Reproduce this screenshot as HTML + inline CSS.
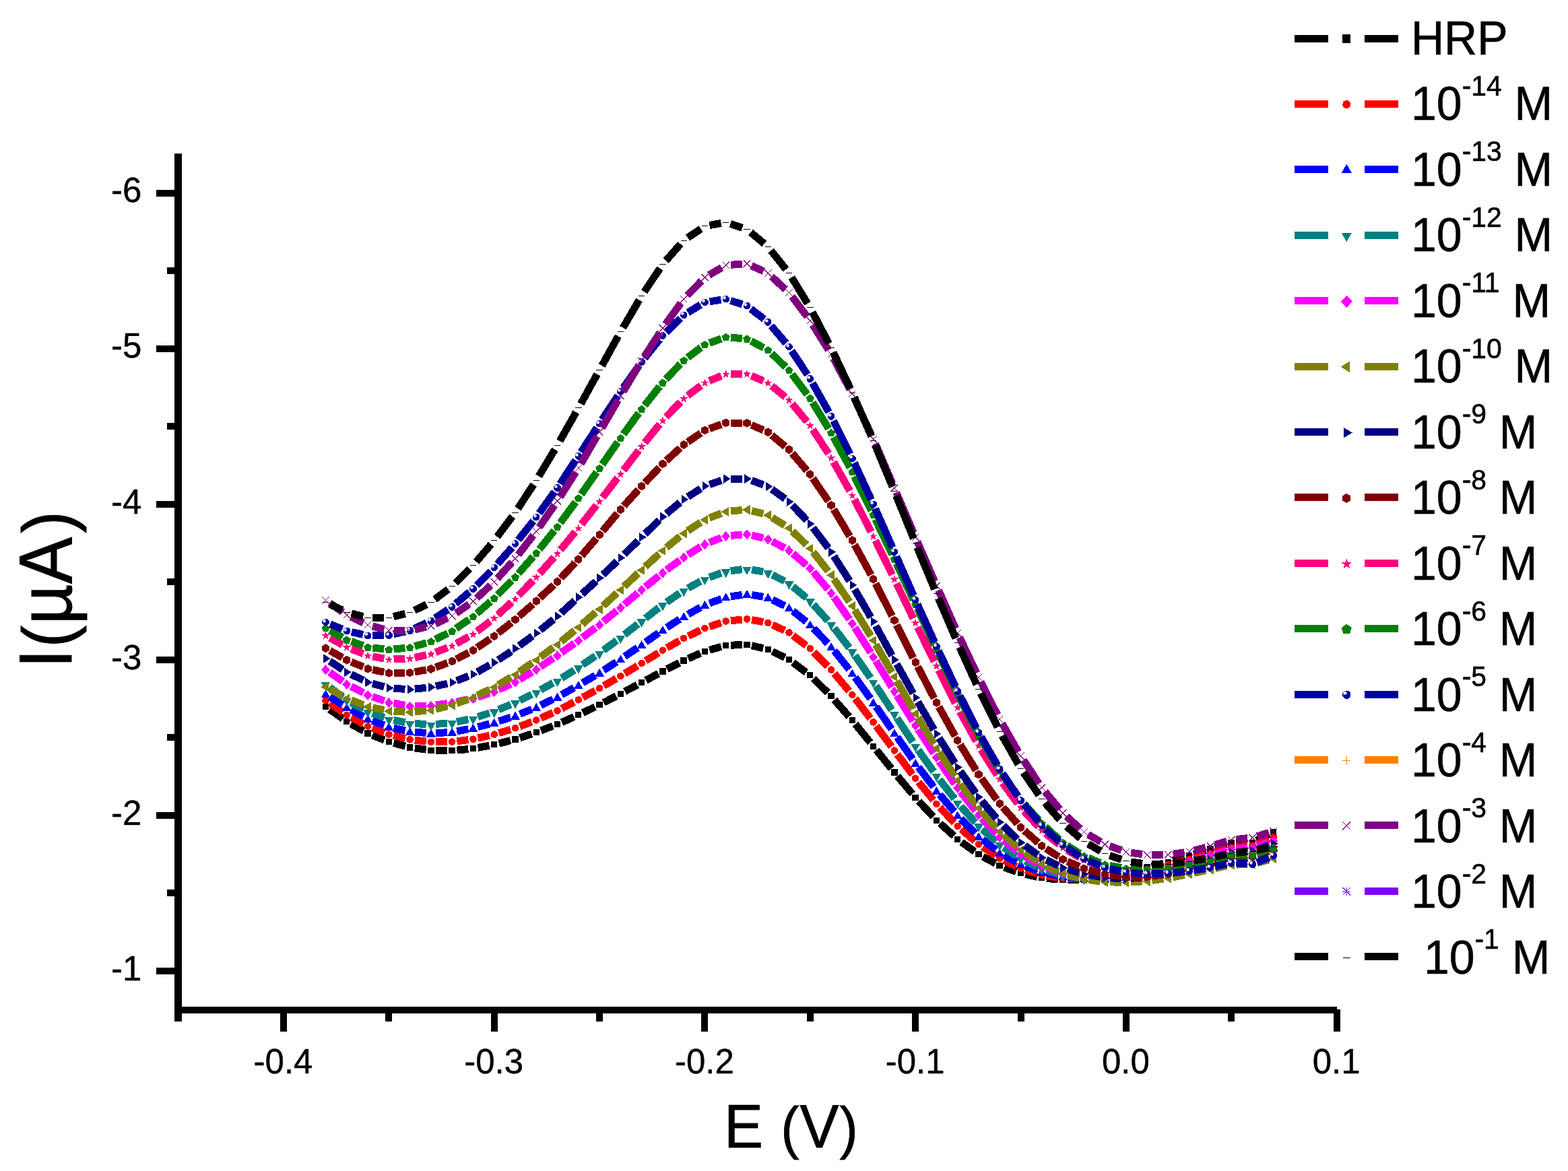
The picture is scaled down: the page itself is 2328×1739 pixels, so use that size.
<!DOCTYPE html>
<html lang="en"><head><meta charset="utf-8"><title>DPV curves: I(µA) vs E (V)</title>
<style>html,body{margin:0;padding:0;background:#fff}body{width:2328px;height:1739px;overflow:hidden}svg{display:block}</style></head><body>
<svg width="2328" height="1739" viewBox="0 0 2328 1739" role="img" aria-label="Differential pulse voltammograms, I(µA) versus E (V)">
<rect width="2328" height="1739" fill="#fff"/>
<g id="curves" shape-rendering="crispEdges">
<g id="c_hrp">
<path d="M489.4,1053.4L509.0,1067.3M521.1,1075.0L539.8,1085.5M552.8,1091.7L570.7,1098.9M584.3,1103.5L601.7,1108.0M615.8,1110.9L632.8,1113.2M647.1,1114.3L664.0,1114.7M678.3,1114.1L695.3,1112.5M709.5,1110.4L726.6,1107.2M740.7,1104.1L758.0,1099.7M771.8,1095.7L789.4,1089.8M803.0,1085.0L820.8,1078.2M834.1,1072.7L852.2,1064.6M865.3,1058.6L883.6,1049.8M896.4,1043.4L915.0,1033.6M927.7,1026.8L946.3,1017.1M959.0,1010.3L977.6,1000.3M990.3,993.7L1008.8,984.3M1021.8,978.1L1039.9,970.1M1053.4,965.3L1070.8,960.4M1084.9,958.2L1101.8,957.6M1116.0,958.8L1133.2,962.7M1146.7,967.4L1165.1,976.4M1177.3,983.9L1197.0,998.5M1207.9,1007.9L1229.0,1028.7M1238.8,1039.2L1260.6,1064.2M1269.9,1075.3L1292.1,1102.6M1301.1,1113.8L1323.4,1141.3M1332.5,1152.5L1354.6,1179.0M1364.1,1189.8L1385.5,1212.8M1395.8,1222.9L1416.4,1241.5M1427.6,1250.6L1447.1,1264.6M1459.3,1272.2L1477.9,1282.2M1491.0,1288.1L1508.7,1294.4M1522.6,1298.4L1539.8,1302.2M1554.0,1304.4L1570.9,1306.0M1585.3,1306.6L1602.1,1306.2M1616.5,1305.2L1633.5,1303.0M1647.7,1300.7L1664.8,1297.1M1678.9,1294.0L1696.1,1290.1M1710.1,1286.6L1727.5,1282.0M1741.3,1278.0L1758.8,1272.6M1772.6,1268.4L1790.1,1262.9M1803.9,1258.8L1821.3,1253.7M1835.4,1251.7L1852.3,1251.7M1865.9,1248.4L1884.4,1238.7" fill="none" stroke="#000000" stroke-width="11.0"/>
<path d="M478.7,1044.6 488.1,1044.6 488.1,1053.8 478.7,1053.8ZM510.0,1066.9 519.4,1066.9 519.4,1076.1 510.0,1076.1ZM541.3,1084.4 550.7,1084.4 550.7,1093.6 541.3,1093.6ZM572.6,1097.0 582.0,1097.0 582.0,1106.2 572.6,1106.2ZM603.8,1105.3 613.2,1105.3 613.2,1114.5 603.8,1114.5ZM635.1,1109.6 644.5,1109.6 644.5,1118.8 635.1,1118.8ZM666.4,1110.2 675.8,1110.2 675.8,1119.4 666.4,1119.4ZM697.6,1107.2 707.0,1107.2 707.0,1116.4 697.6,1116.4ZM728.9,1101.2 738.3,1101.2 738.3,1110.4 728.9,1110.4ZM760.2,1093.4 769.6,1093.4 769.6,1102.6 760.2,1102.6ZM791.5,1082.9 800.9,1082.9 800.9,1092.1 791.5,1092.1ZM822.7,1071.1 832.1,1071.1 832.1,1080.3 822.7,1080.3ZM854.0,1057.1 863.4,1057.1 863.4,1066.3 854.0,1066.3ZM885.3,1042.1 894.7,1042.1 894.7,1051.3 885.3,1051.3ZM916.6,1025.6 926.0,1025.6 926.0,1034.8 916.6,1034.8ZM947.8,1009.1 957.2,1009.1 957.2,1018.3 947.8,1018.3ZM979.1,992.3 988.5,992.3 988.5,1001.5 979.1,1001.5ZM1010.4,976.4 1019.8,976.4 1019.8,985.6 1010.4,985.6ZM1041.6,962.6 1051.0,962.6 1051.0,971.8 1041.6,971.8ZM1072.9,953.9 1082.3,953.9 1082.3,963.1 1072.9,963.1ZM1104.2,952.7 1113.6,952.7 1113.6,961.9 1104.2,961.9ZM1135.5,959.7 1144.9,959.7 1144.9,968.9 1135.5,968.9ZM1166.7,975.0 1176.1,975.0 1176.1,984.2 1166.7,984.2ZM1198.0,998.2 1207.4,998.2 1207.4,1007.4 1198.0,1007.4ZM1229.3,1029.2 1238.7,1029.2 1238.7,1038.4 1229.3,1038.4ZM1260.5,1065.1 1269.9,1065.1 1269.9,1074.3 1260.5,1074.3ZM1291.8,1103.6 1301.2,1103.6 1301.2,1112.8 1291.8,1112.8ZM1323.1,1142.3 1332.5,1142.3 1332.5,1151.5 1323.1,1151.5ZM1354.4,1179.9 1363.8,1179.9 1363.8,1189.1 1354.4,1189.1ZM1385.6,1213.5 1395.0,1213.5 1395.0,1222.7 1385.6,1222.7ZM1416.9,1241.8 1426.3,1241.8 1426.3,1251.0 1416.9,1251.0ZM1448.2,1264.2 1457.6,1264.2 1457.6,1273.4 1448.2,1273.4ZM1479.4,1281.0 1488.8,1281.0 1488.8,1290.2 1479.4,1290.2ZM1510.7,1292.2 1520.1,1292.2 1520.1,1301.4 1510.7,1301.4ZM1542.0,1299.1 1551.4,1299.1 1551.4,1308.3 1542.0,1308.3ZM1573.3,1302.1 1582.7,1302.1 1582.7,1311.3 1573.3,1311.3ZM1604.5,1301.5 1613.9,1301.5 1613.9,1310.7 1604.5,1310.7ZM1635.8,1297.5 1645.2,1297.5 1645.2,1306.7 1635.8,1306.7ZM1667.1,1291.0 1676.5,1291.0 1676.5,1300.2 1667.1,1300.2ZM1698.4,1283.8 1707.8,1283.8 1707.8,1293.0 1698.4,1293.0ZM1729.6,1275.5 1739.0,1275.5 1739.0,1284.7 1729.6,1284.7ZM1760.9,1265.9 1770.3,1265.9 1770.3,1275.1 1760.9,1275.1ZM1792.2,1256.2 1801.6,1256.2 1801.6,1265.4 1792.2,1265.4ZM1823.4,1247.1 1832.8,1247.1 1832.8,1256.3 1823.4,1256.3ZM1854.7,1247.1 1864.1,1247.1 1864.1,1256.3 1854.7,1256.3ZM1886.0,1230.8 1895.4,1230.8 1895.4,1240.0 1886.0,1240.0Z" fill="#000000"/>
</g>
<g id="c_m14">
<path d="M489.5,1044.4L508.9,1057.9M521.2,1065.4L539.7,1075.1M552.8,1081.1L570.6,1088.0M584.3,1092.3L601.6,1096.6M615.8,1099.1L632.8,1101.1M647.1,1101.9L664.0,1101.7M678.3,1100.7L695.3,1098.6M709.5,1096.1L726.7,1092.2M740.6,1088.6L758.1,1083.4M771.7,1078.8L789.5,1072.0M802.8,1066.5L821.0,1058.4M833.9,1052.2L852.4,1042.6M865.1,1035.8L883.8,1025.6M896.3,1018.5L915.1,1007.6M927.5,1000.3L946.5,988.8M958.7,981.2L977.8,969.4M990.1,962.1L1008.9,951.4M1021.7,944.7L1039.9,936.0M1053.3,930.6L1070.9,924.7M1084.9,921.8L1101.8,920.1M1116.1,920.6L1133.2,923.6M1146.8,927.9L1165.0,936.3M1177.3,943.7L1197.1,958.7M1207.9,968.2L1229.0,989.5M1238.7,1000.1L1260.7,1026.2M1269.7,1037.4L1292.2,1066.7M1300.9,1078.2L1323.6,1108.7M1332.2,1120.3L1354.8,1150.1M1363.7,1161.4L1385.9,1188.2M1395.4,1199.0L1416.8,1221.6M1427.2,1231.5L1447.5,1249.1M1459.0,1257.8L1478.3,1270.7M1490.7,1277.9L1509.0,1286.7M1522.4,1292.0L1539.9,1297.4M1553.9,1300.7L1570.9,1303.3M1585.3,1304.5L1602.1,1304.8M1616.5,1304.2L1633.4,1302.7M1647.7,1300.9L1664.8,1298.2M1678.9,1295.7L1696.1,1292.4M1710.2,1289.4L1727.4,1285.5M1741.4,1282.2L1758.7,1277.8M1772.6,1274.1L1790.0,1269.4M1803.9,1265.5L1821.3,1260.5M1835.4,1257.9L1852.3,1256.3M1866.2,1253.1L1884.1,1246.1" fill="none" stroke="#ff0000" stroke-width="11.0"/>
<path d="M483.5,1035.0 485.6,1035.4 487.3,1036.6 488.4,1038.3 488.8,1040.3 488.4,1042.3 487.3,1044.0 485.6,1045.2 483.5,1045.6 481.5,1045.2 479.8,1044.0 478.6,1042.3 478.2,1040.3 478.6,1038.3 479.8,1036.6 481.5,1035.4ZM514.8,1056.7 516.8,1057.1 518.6,1058.3 519.7,1060.0 520.1,1062.0 519.7,1064.0 518.6,1065.7 516.8,1066.9 514.8,1067.3 512.8,1066.9 511.1,1065.7 509.9,1064.0 509.5,1062.0 509.9,1060.0 511.1,1058.3 512.8,1057.1ZM546.1,1073.2 548.1,1073.6 549.8,1074.8 551.0,1076.5 551.4,1078.5 551.0,1080.5 549.8,1082.3 548.1,1083.4 546.1,1083.8 544.1,1083.4 542.3,1082.3 541.2,1080.5 540.8,1078.5 541.2,1076.5 542.3,1074.8 544.1,1073.6ZM577.4,1085.3 579.4,1085.7 581.1,1086.8 582.3,1088.6 582.7,1090.6 582.3,1092.6 581.1,1094.3 579.4,1095.5 577.4,1095.9 575.3,1095.5 573.6,1094.3 572.5,1092.6 572.1,1090.6 572.5,1088.6 573.6,1086.8 575.3,1085.7ZM608.6,1093.0 610.7,1093.4 612.4,1094.6 613.5,1096.3 613.9,1098.3 613.5,1100.3 612.4,1102.1 610.7,1103.2 608.6,1103.6 606.6,1103.2 604.9,1102.1 603.7,1100.3 603.3,1098.3 603.7,1096.3 604.9,1094.6 606.6,1093.4ZM639.9,1096.7 641.9,1097.1 643.7,1098.2 644.8,1099.9 645.2,1102.0 644.8,1104.0 643.7,1105.7 641.9,1106.9 639.9,1107.3 637.9,1106.9 636.2,1105.7 635.0,1104.0 634.6,1102.0 635.0,1099.9 636.2,1098.2 637.9,1097.1ZM671.2,1096.3 673.2,1096.7 674.9,1097.8 676.1,1099.5 676.5,1101.6 676.1,1103.6 674.9,1105.3 673.2,1106.5 671.2,1106.9 669.1,1106.5 667.4,1105.3 666.3,1103.6 665.9,1101.6 666.3,1099.5 667.4,1097.8 669.1,1096.7ZM702.4,1092.4 704.5,1092.8 706.2,1094.0 707.3,1095.7 707.7,1097.7 707.3,1099.7 706.2,1101.5 704.5,1102.6 702.4,1103.0 700.4,1102.6 698.7,1101.5 697.6,1099.7 697.1,1097.7 697.6,1095.7 698.7,1094.0 700.4,1092.8ZM733.7,1085.3 735.7,1085.7 737.5,1086.9 738.6,1088.6 739.0,1090.6 738.6,1092.7 737.5,1094.4 735.7,1095.5 733.7,1095.9 731.7,1095.5 730.0,1094.4 728.8,1092.7 728.4,1090.6 728.8,1088.6 730.0,1086.9 731.7,1085.7ZM765.0,1076.0 767.0,1076.4 768.7,1077.6 769.9,1079.3 770.3,1081.3 769.9,1083.4 768.7,1085.1 767.0,1086.2 765.0,1086.6 763.0,1086.2 761.2,1085.1 760.1,1083.4 759.7,1081.3 760.1,1079.3 761.2,1077.6 763.0,1076.4ZM796.3,1064.1 798.3,1064.5 800.0,1065.7 801.2,1067.4 801.6,1069.4 801.2,1071.4 800.0,1073.1 798.3,1074.3 796.3,1074.7 794.2,1074.3 792.5,1073.1 791.4,1071.4 791.0,1069.4 791.4,1067.4 792.5,1065.7 794.2,1064.5ZM827.5,1050.2 829.6,1050.6 831.3,1051.8 832.4,1053.5 832.8,1055.5 832.4,1057.5 831.3,1059.3 829.6,1060.4 827.5,1060.8 825.5,1060.4 823.8,1059.3 822.6,1057.5 822.2,1055.5 822.6,1053.5 823.8,1051.8 825.5,1050.6ZM858.8,1034.0 860.8,1034.4 862.6,1035.5 863.7,1037.2 864.1,1039.3 863.7,1041.3 862.6,1043.0 860.8,1044.2 858.8,1044.6 856.8,1044.2 855.1,1043.0 853.9,1041.3 853.5,1039.3 853.9,1037.2 855.1,1035.5 856.8,1034.4ZM890.1,1016.8 892.1,1017.2 893.8,1018.4 895.0,1020.1 895.4,1022.1 895.0,1024.1 893.8,1025.9 892.1,1027.0 890.1,1027.4 888.1,1027.0 886.3,1025.9 885.2,1024.1 884.8,1022.1 885.2,1020.1 886.3,1018.4 888.1,1017.2ZM921.4,998.7 923.4,999.1 925.1,1000.3 926.2,1002.0 926.7,1004.0 926.2,1006.1 925.1,1007.8 923.4,1008.9 921.4,1009.3 919.3,1008.9 917.6,1007.8 916.5,1006.1 916.1,1004.0 916.5,1002.0 917.6,1000.3 919.3,999.1ZM952.6,979.7 954.7,980.1 956.4,981.3 957.5,983.0 957.9,985.0 957.5,987.1 956.4,988.8 954.7,989.9 952.6,990.3 950.6,989.9 948.9,988.8 947.7,987.1 947.3,985.0 947.7,983.0 948.9,981.3 950.6,980.1ZM983.9,960.4 985.9,960.8 987.6,961.9 988.8,963.6 989.2,965.7 988.8,967.7 987.6,969.4 985.9,970.5 983.9,971.0 981.9,970.5 980.1,969.4 979.0,967.7 978.6,965.7 979.0,963.6 980.1,961.9 981.9,960.8ZM1015.2,942.5 1017.2,942.9 1018.9,944.1 1020.1,945.8 1020.5,947.8 1020.1,949.8 1018.9,951.6 1017.2,952.7 1015.2,953.1 1013.1,952.7 1011.4,951.6 1010.3,949.8 1009.9,947.8 1010.3,945.8 1011.4,944.1 1013.1,942.9ZM1046.4,927.5 1048.5,927.9 1050.2,929.1 1051.3,930.8 1051.7,932.8 1051.3,934.9 1050.2,936.6 1048.5,937.7 1046.4,938.1 1044.4,937.7 1042.7,936.6 1041.5,934.9 1041.1,932.8 1041.5,930.8 1042.7,929.1 1044.4,927.9ZM1077.7,917.2 1079.7,917.6 1081.5,918.7 1082.6,920.4 1083.0,922.5 1082.6,924.5 1081.5,926.2 1079.7,927.4 1077.7,927.8 1075.7,927.4 1074.0,926.2 1072.8,924.5 1072.4,922.5 1072.8,920.4 1074.0,918.7 1075.7,917.6ZM1109.0,914.1 1111.0,914.5 1112.7,915.6 1113.9,917.4 1114.3,919.4 1113.9,921.4 1112.7,923.1 1111.0,924.3 1109.0,924.7 1107.0,924.3 1105.2,923.1 1104.1,921.4 1103.7,919.4 1104.1,917.4 1105.2,915.6 1107.0,914.5ZM1140.3,919.5 1142.3,919.9 1144.0,921.1 1145.2,922.8 1145.6,924.8 1145.2,926.8 1144.0,928.6 1142.3,929.7 1140.3,930.1 1138.2,929.7 1136.5,928.6 1135.4,926.8 1135.0,924.8 1135.4,922.8 1136.5,921.1 1138.2,919.9ZM1171.5,934.1 1173.6,934.5 1175.3,935.6 1176.4,937.3 1176.8,939.4 1176.4,941.4 1175.3,943.1 1173.6,944.3 1171.5,944.7 1169.5,944.3 1167.8,943.1 1166.6,941.4 1166.2,939.4 1166.6,937.3 1167.8,935.6 1169.5,934.5ZM1202.8,957.8 1204.8,958.2 1206.5,959.3 1207.7,961.0 1208.1,963.1 1207.7,965.1 1206.5,966.8 1204.8,968.0 1202.8,968.4 1200.8,968.0 1199.1,966.8 1197.9,965.1 1197.5,963.1 1197.9,961.0 1199.1,959.3 1200.8,958.2ZM1234.1,989.3 1236.1,989.7 1237.8,990.9 1239.0,992.6 1239.4,994.6 1239.0,996.7 1237.8,998.4 1236.1,999.5 1234.1,999.9 1232.0,999.5 1230.3,998.4 1229.2,996.7 1228.8,994.6 1229.2,992.6 1230.3,990.9 1232.0,989.7ZM1265.3,1026.4 1267.4,1026.8 1269.1,1027.9 1270.2,1029.7 1270.6,1031.7 1270.2,1033.7 1269.1,1035.4 1267.4,1036.6 1265.3,1037.0 1263.3,1036.6 1261.6,1035.4 1260.4,1033.7 1260.0,1031.7 1260.4,1029.7 1261.6,1027.9 1263.3,1026.8ZM1296.6,1067.1 1298.6,1067.5 1300.4,1068.7 1301.5,1070.4 1301.9,1072.4 1301.5,1074.4 1300.4,1076.1 1298.6,1077.3 1296.6,1077.7 1294.6,1077.3 1292.9,1076.1 1291.7,1074.4 1291.3,1072.4 1291.7,1070.4 1292.9,1068.7 1294.6,1067.5ZM1327.9,1109.2 1329.9,1109.6 1331.6,1110.8 1332.8,1112.5 1333.2,1114.5 1332.8,1116.6 1331.6,1118.3 1329.9,1119.4 1327.9,1119.8 1325.9,1119.4 1324.1,1118.3 1323.0,1116.6 1322.6,1114.5 1323.0,1112.5 1324.1,1110.8 1325.9,1109.6ZM1359.2,1150.5 1361.2,1150.9 1362.9,1152.1 1364.1,1153.8 1364.5,1155.8 1364.1,1157.9 1362.9,1159.6 1361.2,1160.7 1359.2,1161.1 1357.1,1160.7 1355.4,1159.6 1354.3,1157.9 1353.9,1155.8 1354.3,1153.8 1355.4,1152.1 1357.1,1150.9ZM1390.4,1188.5 1392.5,1188.9 1394.2,1190.0 1395.3,1191.7 1395.7,1193.8 1395.3,1195.8 1394.2,1197.5 1392.5,1198.7 1390.4,1199.1 1388.4,1198.7 1386.7,1197.5 1385.5,1195.8 1385.1,1193.8 1385.5,1191.7 1386.7,1190.0 1388.4,1188.9ZM1421.7,1221.5 1423.7,1221.9 1425.5,1223.1 1426.6,1224.8 1427.0,1226.8 1426.6,1228.8 1425.5,1230.6 1423.7,1231.7 1421.7,1232.1 1419.7,1231.7 1418.0,1230.6 1416.8,1228.8 1416.4,1226.8 1416.8,1224.8 1418.0,1223.1 1419.7,1221.9ZM1453.0,1248.5 1455.0,1248.9 1456.7,1250.0 1457.9,1251.7 1458.3,1253.8 1457.9,1255.8 1456.7,1257.5 1455.0,1258.7 1453.0,1259.1 1450.9,1258.7 1449.2,1257.5 1448.1,1255.8 1447.7,1253.8 1448.1,1251.7 1449.2,1250.0 1450.9,1248.9ZM1484.2,1269.5 1486.3,1269.9 1488.0,1271.0 1489.1,1272.7 1489.5,1274.8 1489.1,1276.8 1488.0,1278.5 1486.3,1279.7 1484.2,1280.1 1482.2,1279.7 1480.5,1278.5 1479.4,1276.8 1478.9,1274.8 1479.4,1272.7 1480.5,1271.0 1482.2,1269.9ZM1515.5,1284.5 1517.5,1284.9 1519.3,1286.1 1520.4,1287.8 1520.8,1289.8 1520.4,1291.9 1519.3,1293.6 1517.5,1294.7 1515.5,1295.1 1513.5,1294.7 1511.8,1293.6 1510.6,1291.9 1510.2,1289.8 1510.6,1287.8 1511.8,1286.1 1513.5,1284.9ZM1546.8,1294.3 1548.8,1294.7 1550.5,1295.8 1551.7,1297.5 1552.1,1299.6 1551.7,1301.6 1550.5,1303.3 1548.8,1304.5 1546.8,1304.9 1544.8,1304.5 1543.0,1303.3 1541.9,1301.6 1541.5,1299.6 1541.9,1297.5 1543.0,1295.8 1544.8,1294.7ZM1578.1,1299.1 1580.1,1299.5 1581.8,1300.7 1583.0,1302.4 1583.4,1304.4 1583.0,1306.4 1581.8,1308.2 1580.1,1309.3 1578.1,1309.7 1576.0,1309.3 1574.3,1308.2 1573.2,1306.4 1572.8,1304.4 1573.2,1302.4 1574.3,1300.7 1576.0,1299.5ZM1609.3,1299.6 1611.4,1300.0 1613.1,1301.1 1614.2,1302.8 1614.6,1304.9 1614.2,1306.9 1613.1,1308.6 1611.4,1309.8 1609.3,1310.2 1607.3,1309.8 1605.6,1308.6 1604.4,1306.9 1604.0,1304.9 1604.4,1302.8 1605.6,1301.1 1607.3,1300.0ZM1640.6,1296.8 1642.6,1297.2 1644.4,1298.3 1645.5,1300.0 1645.9,1302.1 1645.5,1304.1 1644.4,1305.8 1642.6,1307.0 1640.6,1307.4 1638.6,1307.0 1636.9,1305.8 1635.7,1304.1 1635.3,1302.1 1635.7,1300.0 1636.9,1298.3 1638.6,1297.2ZM1671.9,1291.8 1673.9,1292.2 1675.6,1293.3 1676.8,1295.1 1677.2,1297.1 1676.8,1299.1 1675.6,1300.8 1673.9,1302.0 1671.9,1302.4 1669.9,1302.0 1668.1,1300.8 1667.0,1299.1 1666.6,1297.1 1667.0,1295.1 1668.1,1293.3 1669.9,1292.2ZM1703.2,1285.7 1705.2,1286.1 1706.9,1287.3 1708.0,1289.0 1708.5,1291.0 1708.0,1293.0 1706.9,1294.7 1705.2,1295.9 1703.2,1296.3 1701.1,1295.9 1699.4,1294.7 1698.3,1293.0 1697.9,1291.0 1698.3,1289.0 1699.4,1287.3 1701.1,1286.1ZM1734.4,1278.7 1736.5,1279.1 1738.2,1280.2 1739.3,1281.9 1739.7,1284.0 1739.3,1286.0 1738.2,1287.7 1736.5,1288.9 1734.4,1289.3 1732.4,1288.9 1730.7,1287.7 1729.5,1286.0 1729.1,1284.0 1729.5,1281.9 1730.7,1280.2 1732.4,1279.1ZM1765.7,1270.7 1767.7,1271.1 1769.4,1272.3 1770.6,1274.0 1771.0,1276.0 1770.6,1278.0 1769.4,1279.7 1767.7,1280.9 1765.7,1281.3 1763.7,1280.9 1761.9,1279.7 1760.8,1278.0 1760.4,1276.0 1760.8,1274.0 1761.9,1272.3 1763.7,1271.1ZM1797.0,1262.2 1799.0,1262.6 1800.7,1263.8 1801.9,1265.5 1802.3,1267.5 1801.9,1269.5 1800.7,1271.2 1799.0,1272.4 1797.0,1272.8 1794.9,1272.4 1793.2,1271.2 1792.1,1269.5 1791.7,1267.5 1792.1,1265.5 1793.2,1263.8 1794.9,1262.6ZM1828.2,1253.2 1830.3,1253.6 1832.0,1254.8 1833.1,1256.5 1833.5,1258.5 1833.1,1260.5 1832.0,1262.2 1830.3,1263.4 1828.2,1263.8 1826.2,1263.4 1824.5,1262.2 1823.3,1260.5 1822.9,1258.5 1823.3,1256.5 1824.5,1254.8 1826.2,1253.6ZM1859.5,1250.4 1861.5,1250.8 1863.3,1252.0 1864.4,1253.7 1864.8,1255.7 1864.4,1257.7 1863.3,1259.4 1861.5,1260.6 1859.5,1261.0 1857.5,1260.6 1855.8,1259.4 1854.6,1257.7 1854.2,1255.7 1854.6,1253.7 1855.8,1252.0 1857.5,1250.8ZM1890.8,1238.2 1892.8,1238.6 1894.5,1239.8 1895.7,1241.5 1896.1,1243.5 1895.7,1245.5 1894.5,1247.2 1892.8,1248.4 1890.8,1248.8 1888.8,1248.4 1887.0,1247.2 1885.9,1245.5 1885.5,1243.5 1885.9,1241.5 1887.0,1239.8 1888.8,1238.6Z" fill="#ff0000"/>
</g>
<g id="c_m13">
<path d="M489.6,1034.6L508.7,1046.7M521.1,1054.0L539.8,1064.2M552.8,1070.2L570.6,1076.9M584.4,1081.1L601.6,1085.0M615.8,1087.1L632.7,1088.5M647.1,1088.7L664.0,1087.7M678.2,1086.0L695.4,1082.7M709.4,1079.5L726.7,1075.1M740.6,1071.0L758.1,1065.3M771.7,1060.4L789.6,1053.2M802.7,1047.4L821.1,1038.4M833.8,1031.7L852.5,1021.3M865.0,1014.1L883.9,1003.0M896.1,995.4L915.3,983.0M927.3,975.0L946.7,961.8M958.5,953.6L978.0,939.8M990.0,931.8L1009.1,919.6M1021.5,912.3L1040.1,901.9M1053.2,895.9L1071.0,889.4M1084.8,885.8L1101.9,883.4M1116.1,883.5L1133.2,886.3M1146.7,890.7L1165.1,899.6M1177.1,907.3L1197.2,923.4M1207.8,933.1L1229.1,955.6M1238.6,966.4L1260.8,994.2M1269.5,1005.7L1292.4,1037.5M1300.7,1049.3L1323.8,1082.9M1332.0,1094.7L1355.0,1127.4M1363.5,1139.1L1386.1,1168.7M1395.1,1179.9L1417.0,1205.5M1426.8,1216.1L1447.9,1237.3M1458.7,1246.8L1478.6,1262.3M1490.6,1270.1L1509.2,1280.3M1522.3,1286.2L1540.0,1292.6M1553.8,1296.6L1571.0,1300.5M1585.2,1302.7L1602.2,1304.3M1616.5,1305.0L1633.4,1305.1M1647.8,1304.6L1664.7,1303.5M1679.0,1302.1L1696.0,1299.8M1710.2,1297.6L1727.3,1294.3M1741.5,1291.4L1758.7,1287.6M1772.7,1284.4L1789.9,1280.6M1803.9,1277.2L1821.3,1272.8M1835.4,1270.5L1852.3,1269.5M1866.4,1266.8L1883.9,1261.2" fill="none" stroke="#0000ff" stroke-width="11.0"/>
<path d="M483.5,1024.1 490.4,1036.1 476.6,1036.1ZM514.8,1044.0 521.7,1056.0 507.9,1056.0ZM546.1,1061.1 553.0,1073.1 539.2,1073.1ZM577.4,1072.9 584.3,1084.9 570.5,1084.9ZM608.6,1080.0 615.5,1092.0 601.7,1092.0ZM639.9,1082.5 646.8,1094.5 633.0,1094.5ZM671.2,1080.7 678.1,1092.7 664.3,1092.7ZM702.4,1074.7 709.3,1086.7 695.5,1086.7ZM733.7,1066.7 740.6,1078.7 726.8,1078.7ZM765.0,1056.5 771.9,1068.5 758.1,1068.5ZM796.3,1044.0 803.2,1056.0 789.4,1056.0ZM827.5,1028.7 834.4,1040.7 820.6,1040.7ZM858.8,1011.2 865.7,1023.2 851.9,1023.2ZM890.1,992.7 897.0,1004.7 883.2,1004.7ZM921.4,972.4 928.3,984.4 914.5,984.4ZM952.6,951.1 959.5,963.1 945.7,963.1ZM983.9,929.1 990.8,941.1 977.0,941.1ZM1015.2,909.2 1022.1,921.2 1008.3,921.2ZM1046.4,891.8 1053.3,903.8 1039.5,903.8ZM1077.7,880.3 1084.6,892.3 1070.8,892.3ZM1109.0,875.8 1115.9,887.8 1102.1,887.8ZM1140.3,880.9 1147.2,892.9 1133.4,892.9ZM1171.5,896.2 1178.4,908.2 1164.6,908.2ZM1202.8,921.3 1209.7,933.3 1195.9,933.3ZM1234.1,954.2 1241.0,966.2 1227.2,966.2ZM1265.3,993.3 1272.2,1005.3 1258.4,1005.3ZM1296.6,1036.8 1303.5,1048.8 1289.7,1048.8ZM1327.9,1082.2 1334.8,1094.2 1321.0,1094.2ZM1359.2,1126.7 1366.1,1138.7 1352.3,1138.7ZM1390.4,1167.8 1397.3,1179.8 1383.5,1179.8ZM1421.7,1204.4 1428.6,1216.4 1414.8,1216.4ZM1453.0,1235.8 1459.9,1247.8 1446.1,1247.8ZM1484.2,1260.1 1491.1,1272.1 1477.3,1272.1ZM1515.5,1277.2 1522.4,1289.2 1508.6,1289.2ZM1546.8,1288.5 1553.7,1300.5 1539.9,1300.5ZM1578.1,1295.4 1585.0,1307.4 1571.2,1307.4ZM1609.3,1298.4 1616.2,1310.4 1602.4,1310.4ZM1640.6,1298.5 1647.5,1310.5 1633.7,1310.5ZM1671.9,1296.4 1678.8,1308.4 1665.0,1308.4ZM1703.2,1292.3 1710.1,1304.3 1696.3,1304.3ZM1734.4,1286.4 1741.3,1298.4 1727.5,1298.4ZM1765.7,1279.4 1772.6,1291.4 1758.8,1291.4ZM1797.0,1272.4 1803.9,1284.4 1790.1,1284.4ZM1828.2,1264.4 1835.1,1276.4 1821.3,1276.4ZM1859.5,1262.4 1866.4,1274.4 1852.6,1274.4ZM1890.8,1252.4 1897.7,1264.4 1883.9,1264.4Z" fill="#0000ff"/>
</g>
<g id="c_m12">
<path d="M489.3,1020.5L509.1,1035.6M521.1,1043.4L539.8,1053.5M552.9,1059.3L570.6,1065.6M584.4,1069.4L601.6,1072.8M615.8,1074.6L632.7,1075.5M647.1,1075.4L664.0,1074.0M678.2,1071.9L695.4,1068.3M709.3,1064.6L726.9,1058.9M740.3,1053.8L758.4,1046.2M771.5,1040.2L789.8,1031.2M802.6,1024.5L821.2,1014.2M833.7,1007.0L852.7,995.2M864.8,987.3L884.1,974.1M895.9,965.7L915.6,951.2M927.0,942.4L946.9,926.9M958.3,918.1L978.2,902.6M989.8,894.2L1009.2,880.9M1021.5,873.4L1040.1,863.2M1053.2,857.3L1070.9,851.0M1084.9,847.7L1101.8,845.6M1116.1,846.0L1133.2,849.1M1146.7,853.7L1165.1,863.1M1177.0,871.0L1197.3,888.0M1207.6,897.9L1229.2,921.9M1238.5,932.9L1260.9,961.9M1269.4,973.5L1292.5,1006.7M1300.6,1018.7L1323.9,1054.3M1331.8,1066.4L1355.2,1101.9M1363.3,1113.8L1386.3,1146.0M1394.9,1157.6L1417.3,1186.3M1426.5,1197.4L1448.1,1221.3M1458.4,1231.4L1478.9,1249.7M1490.2,1258.4L1509.5,1271.4M1522.0,1278.5L1540.3,1287.3M1553.7,1292.6L1571.2,1298.0M1585.2,1301.2L1602.2,1303.8M1616.5,1305.2L1633.4,1305.8M1647.8,1305.6L1664.7,1304.5M1679.0,1303.1L1696.0,1300.9M1710.2,1298.6L1727.3,1295.3M1741.5,1292.4L1758.7,1288.6M1772.7,1285.4L1789.9,1281.6M1803.9,1278.2L1821.3,1273.8M1835.4,1271.5L1852.3,1270.5M1866.4,1267.8L1883.9,1262.2" fill="none" stroke="#008080" stroke-width="11.0"/>
<path d="M483.5,1025.5 490.4,1012.9 476.6,1012.9ZM514.8,1049.4 521.7,1036.8 507.9,1036.8ZM546.1,1066.3 553.0,1053.7 539.2,1053.7ZM577.4,1077.4 584.3,1064.8 570.5,1064.8ZM608.6,1083.6 615.5,1071.0 601.7,1071.0ZM639.9,1085.3 646.8,1072.7 633.0,1072.7ZM671.2,1082.8 678.1,1070.2 664.3,1070.2ZM702.4,1076.2 709.3,1063.6 695.5,1063.6ZM733.7,1066.0 740.6,1053.4 726.8,1053.4ZM765.0,1052.8 771.9,1040.2 758.1,1040.2ZM796.3,1037.4 803.2,1024.8 789.4,1024.8ZM827.5,1020.2 834.4,1007.6 820.6,1007.6ZM858.8,1000.8 865.7,988.2 851.9,988.2ZM890.1,979.4 897.0,966.8 883.2,966.8ZM921.4,956.3 928.3,943.7 914.5,943.7ZM952.6,931.9 959.5,919.3 945.7,919.3ZM983.9,907.6 990.8,895.0 977.0,895.0ZM1015.2,886.2 1022.1,873.6 1008.3,873.6ZM1046.4,869.1 1053.3,856.5 1039.5,856.5ZM1077.7,858.0 1084.6,845.4 1070.8,845.4ZM1109.0,854.1 1115.9,841.5 1102.1,841.5ZM1140.3,859.8 1147.2,847.2 1133.4,847.2ZM1171.5,875.7 1178.4,863.1 1164.6,863.1ZM1202.8,902.0 1209.7,889.4 1195.9,889.4ZM1234.1,936.6 1241.0,924.0 1227.2,924.0ZM1265.3,977.0 1272.2,964.4 1258.4,964.4ZM1296.6,1022.1 1303.5,1009.5 1289.7,1009.5ZM1327.9,1069.7 1334.8,1057.1 1321.0,1057.1ZM1359.2,1117.3 1366.1,1104.7 1352.3,1104.7ZM1390.4,1161.3 1397.3,1148.7 1383.5,1148.7ZM1421.7,1201.4 1428.6,1188.8 1414.8,1188.8ZM1453.0,1236.0 1459.9,1223.4 1446.1,1223.4ZM1484.2,1263.8 1491.1,1251.2 1477.3,1251.2ZM1515.5,1284.8 1522.4,1272.2 1508.6,1272.2ZM1546.8,1299.9 1553.7,1287.3 1539.9,1287.3ZM1578.1,1309.5 1585.0,1296.9 1571.2,1296.9ZM1609.3,1314.3 1616.2,1301.7 1602.4,1301.7ZM1640.6,1315.4 1647.5,1302.8 1633.7,1302.8ZM1671.9,1313.5 1678.8,1300.9 1665.0,1300.9ZM1703.2,1309.3 1710.1,1296.7 1696.3,1296.7ZM1734.4,1303.4 1741.3,1290.8 1727.5,1290.8ZM1765.7,1296.4 1772.6,1283.8 1758.8,1283.8ZM1797.0,1289.4 1803.9,1276.8 1790.1,1276.8ZM1828.2,1281.4 1835.1,1268.8 1821.3,1268.8ZM1859.5,1279.4 1866.4,1266.8 1852.6,1266.8ZM1890.8,1269.4 1897.7,1256.8 1883.9,1256.8Z" fill="#008080"/>
</g>
<g id="c_m11">
<path d="M489.5,998.4L508.9,1012.0M521.2,1019.4L539.7,1028.8M552.9,1034.5L570.6,1040.8M584.5,1044.4L601.5,1047.3M615.8,1048.4L632.7,1048.1M647.0,1047.0L664.0,1044.6M678.2,1042.2L695.4,1038.7M709.3,1035.1L726.9,1029.5M740.3,1024.3L758.5,1015.8M771.2,1009.1L790.1,997.9M802.3,990.3L821.5,977.4M833.4,969.2L852.9,955.4M864.6,946.9L884.3,932.1M895.7,923.2L915.8,906.9M926.9,897.7L947.1,880.6M958.2,871.4L978.3,855.2M989.7,846.4L1009.4,831.8M1021.3,823.8L1040.3,812.0M1053.1,805.6L1071.0,798.6M1084.9,795.4L1101.8,793.9M1116.0,794.9L1133.3,799.0M1146.6,804.1L1165.2,813.9M1177.0,822.0L1197.3,839.2M1207.5,849.3L1229.4,875.2M1238.2,886.7L1261.2,919.9M1269.2,931.9L1292.8,969.3M1300.4,981.5L1324.1,1020.4M1331.7,1032.7L1355.4,1071.0M1363.1,1083.1L1386.5,1118.7M1394.5,1130.7L1417.6,1164.1M1426.1,1175.7L1448.5,1204.2M1457.9,1215.1L1479.3,1238.0M1489.9,1247.7L1509.9,1263.8M1521.8,1271.9L1540.5,1282.6M1553.6,1288.5L1571.3,1294.7M1585.1,1298.4L1602.3,1301.7M1616.5,1303.5L1633.4,1304.5M1647.8,1304.5L1664.7,1303.5M1679.0,1301.9L1696.0,1299.2M1710.1,1296.1L1727.5,1291.4M1741.2,1287.2L1758.9,1281.3M1772.6,1277.1L1790.0,1272.4M1803.9,1268.4L1821.4,1263.1M1835.4,1260.5L1852.3,1259.2M1866.3,1256.4L1884.0,1250.6" fill="none" stroke="#ff00ff" stroke-width="11.0"/>
<path d="M483.5,987.2 490.0,994.7 483.5,1002.2 477.0,994.7ZM514.8,1009.0 521.3,1016.5 514.8,1024.0 508.3,1016.5ZM546.1,1025.0 552.6,1032.5 546.1,1040.0 539.6,1032.5ZM577.4,1036.1 583.9,1043.6 577.4,1051.1 570.9,1043.6ZM608.6,1041.5 615.1,1049.0 608.6,1056.5 602.1,1049.0ZM639.9,1040.9 646.4,1048.4 639.9,1055.9 633.4,1048.4ZM671.2,1036.5 677.7,1044.0 671.2,1051.5 664.7,1044.0ZM702.4,1030.2 708.9,1037.7 702.4,1045.2 695.9,1037.7ZM733.7,1020.2 740.2,1027.7 733.7,1035.2 727.2,1027.7ZM765.0,1005.7 771.5,1013.2 765.0,1020.7 758.5,1013.2ZM796.3,987.1 802.8,994.6 796.3,1002.1 789.8,994.6ZM827.5,966.3 834.0,973.8 827.5,981.3 821.0,973.8ZM858.8,944.1 865.3,951.6 858.8,959.1 852.3,951.6ZM890.1,920.7 896.6,928.2 890.1,935.7 883.6,928.2ZM921.4,895.2 927.9,902.7 921.4,910.2 914.9,902.7ZM952.6,868.8 959.1,876.3 952.6,883.8 946.1,876.3ZM983.9,843.6 990.4,851.1 983.9,858.6 977.4,851.1ZM1015.2,820.5 1021.7,828.0 1015.2,835.5 1008.7,828.0ZM1046.4,801.2 1052.9,808.7 1046.4,816.2 1039.9,808.7ZM1077.7,788.9 1084.2,796.4 1077.7,803.9 1071.2,796.4ZM1109.0,786.2 1115.5,793.7 1109.0,801.2 1102.5,793.7ZM1140.3,793.6 1146.8,801.1 1140.3,808.6 1133.8,801.1ZM1171.5,810.2 1178.0,817.7 1171.5,825.2 1165.0,817.7ZM1202.8,836.8 1209.3,844.3 1202.8,851.8 1196.3,844.3ZM1234.1,873.6 1240.6,881.1 1234.1,888.6 1227.6,881.1ZM1265.3,918.7 1271.8,926.2 1265.3,933.7 1258.8,926.2ZM1296.6,968.3 1303.1,975.8 1296.6,983.3 1290.1,975.8ZM1327.9,1019.5 1334.4,1027.0 1327.9,1034.5 1321.4,1027.0ZM1359.2,1070.0 1365.7,1077.5 1359.2,1085.0 1352.7,1077.5ZM1390.4,1117.6 1396.9,1125.1 1390.4,1132.6 1383.9,1125.1ZM1421.7,1162.9 1428.2,1170.4 1421.7,1177.9 1415.2,1170.4ZM1453.0,1202.8 1459.5,1210.3 1453.0,1217.8 1446.5,1210.3ZM1484.2,1236.1 1490.7,1243.6 1484.2,1251.1 1477.7,1243.6ZM1515.5,1261.2 1522.0,1268.7 1515.5,1276.2 1509.0,1268.7ZM1546.8,1279.1 1553.3,1286.6 1546.8,1294.1 1540.3,1286.6ZM1578.1,1289.9 1584.6,1297.4 1578.1,1304.9 1571.6,1297.4ZM1609.3,1296.0 1615.8,1303.5 1609.3,1311.0 1602.8,1303.5ZM1640.6,1297.8 1647.1,1305.3 1640.6,1312.8 1634.1,1305.3ZM1671.9,1296.0 1678.4,1303.5 1671.9,1311.0 1665.4,1303.5ZM1703.2,1290.9 1709.7,1298.4 1703.2,1305.9 1696.7,1298.4ZM1734.4,1282.4 1740.9,1289.9 1734.4,1297.4 1727.9,1289.9ZM1765.7,1271.9 1772.2,1279.4 1765.7,1286.9 1759.2,1279.4ZM1797.0,1263.4 1803.5,1270.9 1797.0,1278.4 1790.5,1270.9ZM1828.2,1253.9 1834.7,1261.4 1828.2,1268.9 1821.7,1261.4ZM1859.5,1251.6 1866.0,1259.1 1859.5,1266.6 1853.0,1259.1ZM1890.8,1241.2 1897.3,1248.7 1890.8,1256.2 1884.3,1248.7Z" fill="#ff00ff"/>
</g>
<g id="c_m10">
<path d="M489.9,1023.3L508.5,1033.5M521.5,1039.7L539.4,1046.8M553.1,1050.9L570.3,1054.4M584.6,1056.3L601.4,1057.1M615.8,1056.9L632.7,1055.3M646.9,1053.0L664.2,1048.8M678.0,1044.6L695.7,1038.4M708.9,1032.8L727.3,1023.8M739.9,1016.9L758.8,1005.6M770.9,997.8L790.4,984.2M802.1,975.9L821.7,961.5M833.1,952.7L853.2,936.2M864.3,926.9L884.6,909.3M895.4,899.7L916.0,880.7M926.6,870.9L947.4,851.4M957.9,841.6L978.6,822.6M989.5,813.1L1009.6,796.5M1021.2,788.1L1040.4,775.7M1053.2,769.2L1071.0,762.3M1084.9,759.0L1101.8,757.5M1116.0,758.6L1133.3,763.0M1146.4,768.6L1165.4,780.3M1176.7,789.1L1197.6,809.3M1207.3,819.9L1229.6,848.3M1238.1,859.9L1261.3,893.9M1269.1,906.0L1292.9,944.7M1300.2,957.1L1324.3,998.6M1331.5,1011.1L1355.6,1053.3M1362.9,1065.7L1386.7,1104.8M1394.4,1117.0L1417.8,1152.5M1426.0,1164.3L1448.7,1194.5M1457.8,1205.6L1479.4,1229.6M1489.7,1239.6L1510.1,1257.3M1521.5,1266.0L1540.8,1278.8M1553.3,1285.8L1571.5,1294.1M1585.0,1298.9L1602.4,1303.7M1616.5,1306.6L1633.5,1308.9M1647.8,1309.9L1664.7,1310.2M1679.1,1309.9L1696.0,1308.9M1710.3,1307.5L1727.3,1305.1M1741.5,1302.7L1758.6,1299.4M1772.7,1296.4L1789.9,1292.6M1804.0,1289.5L1821.2,1285.8M1835.4,1284.1L1852.3,1283.5M1866.5,1281.5L1883.8,1276.8" fill="none" stroke="#808000" stroke-width="11.0"/>
<path d="M476.1,1020.1 488.0,1013.1 488.0,1027.1ZM507.4,1037.3 519.3,1030.3 519.3,1044.3ZM538.7,1049.7 550.6,1042.7 550.6,1056.7ZM570.0,1056.2 581.9,1049.2 581.9,1063.2ZM601.2,1057.8 613.1,1050.8 613.1,1064.8ZM632.5,1055.0 644.4,1048.0 644.4,1062.0ZM663.8,1047.4 675.7,1040.4 675.7,1054.4ZM695.0,1036.3 706.9,1029.3 706.9,1043.3ZM726.3,1020.9 738.2,1013.9 738.2,1027.9ZM757.6,1002.2 769.5,995.2 769.5,1009.2ZM788.9,980.4 800.8,973.4 800.8,987.4ZM820.1,957.6 832.0,950.6 832.0,964.6ZM851.4,931.9 863.3,924.9 863.3,938.9ZM882.7,904.9 894.6,897.9 894.6,911.9ZM914.0,876.2 925.9,869.2 925.9,883.2ZM945.2,846.8 957.1,839.8 957.1,853.8ZM976.5,818.0 988.4,811.0 988.4,825.0ZM1007.8,792.3 1019.7,785.3 1019.7,799.3ZM1039.0,772.0 1050.9,765.0 1050.9,779.0ZM1070.3,760.0 1082.2,753.0 1082.2,767.0ZM1101.6,757.1 1113.5,750.1 1113.5,764.1ZM1132.9,765.1 1144.8,758.1 1144.8,772.1ZM1164.1,784.4 1176.0,777.4 1176.0,791.4ZM1195.4,814.6 1207.3,807.6 1207.3,821.6ZM1226.7,854.2 1238.6,847.2 1238.6,861.2ZM1257.9,900.1 1269.8,893.1 1269.8,907.1ZM1289.2,951.2 1301.1,944.2 1301.1,958.2ZM1320.5,1005.2 1332.4,998.2 1332.4,1012.2ZM1351.8,1059.9 1363.7,1052.9 1363.7,1066.9ZM1383.0,1111.3 1394.9,1104.3 1394.9,1118.3ZM1414.3,1158.9 1426.2,1151.9 1426.2,1165.9ZM1445.6,1200.5 1457.5,1193.5 1457.5,1207.5ZM1476.8,1235.2 1488.7,1228.2 1488.7,1242.2ZM1508.1,1262.3 1520.0,1255.3 1520.0,1269.3ZM1539.4,1283.1 1551.3,1276.1 1551.3,1290.1ZM1570.7,1297.3 1582.6,1290.3 1582.6,1304.3ZM1601.9,1306.0 1613.8,1299.0 1613.8,1313.0ZM1633.2,1310.1 1645.1,1303.1 1645.1,1317.1ZM1664.5,1310.7 1676.4,1303.7 1676.4,1317.7ZM1695.8,1308.8 1707.7,1301.8 1707.7,1315.8ZM1727.0,1304.4 1738.9,1297.4 1738.9,1311.4ZM1758.3,1298.3 1770.2,1291.3 1770.2,1305.3ZM1789.6,1291.3 1801.5,1284.3 1801.5,1298.3ZM1820.8,1284.6 1832.7,1277.6 1832.7,1291.6ZM1852.1,1283.6 1864.0,1276.6 1864.0,1290.6ZM1883.4,1275.3 1895.3,1268.3 1895.3,1282.3Z" fill="#808000"/>
</g>
<g id="c_m9">
<path d="M489.6,981.9L508.8,994.4M521.3,1001.4L539.6,1010.2M553.0,1015.2L570.4,1019.9M584.5,1022.2L601.4,1023.4M615.8,1023.1L632.7,1021.4M646.9,1019.0L664.2,1015.1M677.9,1010.9L695.7,1004.0M708.7,997.9L727.4,987.5M739.7,980.0L759.0,967.3M770.8,959.0L790.5,944.6M801.9,935.9L821.9,919.8M832.9,910.5L853.5,891.8M864.1,882.1L884.8,863.3M895.3,853.4L916.2,833.4M926.5,823.4L947.5,802.9M957.8,792.8L978.7,772.5M989.4,762.9L1009.6,746.2M1021.2,737.8L1040.4,725.6M1053.3,719.5L1070.9,713.5M1084.9,711.1L1101.8,711.1M1115.8,713.5L1133.5,720.0M1146.1,726.7L1165.7,740.8M1176.5,750.3L1197.8,772.8M1207.1,783.8L1229.8,814.0M1237.9,825.9L1261.5,862.8M1268.9,875.2L1293.0,916.9M1300.1,929.4L1324.4,973.5M1331.4,986.1L1355.7,1029.8M1362.8,1042.3L1386.8,1083.7M1394.3,1096.0L1417.9,1133.4M1425.8,1145.4L1448.8,1178.0M1457.6,1189.4L1479.6,1215.5M1489.4,1226.1L1510.3,1246.3M1521.4,1255.5L1540.9,1269.6M1553.3,1276.9L1571.6,1285.7M1585.0,1290.8L1602.4,1296.0M1616.4,1299.3L1633.5,1302.2M1647.8,1303.8L1664.7,1304.7M1679.0,1304.4L1696.0,1302.8M1710.2,1300.7L1727.4,1297.2M1741.4,1293.9L1758.8,1289.0M1772.6,1284.8L1790.1,1279.2M1803.8,1274.6L1821.4,1268.4M1835.4,1265.5L1852.3,1264.5M1866.3,1261.6L1884.0,1255.4" fill="none" stroke="#000080" stroke-width="11.0"/>
<path d="M490.5,978.0 479.8,971.1 479.8,984.9ZM521.8,998.3 511.1,991.4 511.1,1005.2ZM553.1,1013.3 542.4,1006.4 542.4,1020.2ZM584.4,1021.7 573.7,1014.8 573.7,1028.6ZM615.6,1023.9 604.9,1017.0 604.9,1030.8ZM646.9,1020.6 636.2,1013.7 636.2,1027.5ZM678.2,1013.5 667.5,1006.6 667.5,1020.4ZM709.4,1001.4 698.7,994.5 698.7,1008.3ZM740.7,984.0 730.0,977.1 730.0,990.9ZM772.0,963.3 761.3,956.4 761.3,970.2ZM803.3,940.4 792.6,933.5 792.6,947.3ZM834.5,915.3 823.8,908.4 823.8,922.2ZM865.8,887.0 855.1,880.1 855.1,893.9ZM897.1,858.4 886.4,851.5 886.4,865.3ZM928.4,828.4 917.7,821.5 917.7,835.3ZM959.6,797.8 948.9,790.9 948.9,804.7ZM990.9,767.5 980.2,760.6 980.2,774.4ZM1022.2,741.6 1011.5,734.7 1011.5,748.5ZM1053.4,721.8 1042.7,714.9 1042.7,728.7ZM1084.7,711.1 1074.0,704.2 1074.0,718.0ZM1116.0,711.1 1105.3,704.2 1105.3,718.0ZM1147.3,722.5 1136.6,715.6 1136.6,729.4ZM1178.5,745.1 1167.8,738.2 1167.8,752.0ZM1209.8,778.0 1199.1,771.1 1199.1,784.9ZM1241.1,819.8 1230.4,812.9 1230.4,826.7ZM1272.3,868.9 1261.6,862.0 1261.6,875.8ZM1303.6,923.1 1292.9,916.2 1292.9,930.0ZM1334.9,979.8 1324.2,972.9 1324.2,986.7ZM1366.2,1036.1 1355.5,1029.2 1355.5,1043.0ZM1397.4,1089.9 1386.7,1083.0 1386.7,1096.8ZM1428.7,1139.5 1418.0,1132.6 1418.0,1146.4ZM1460.0,1183.9 1449.3,1177.0 1449.3,1190.8ZM1491.2,1221.1 1480.5,1214.2 1480.5,1228.0ZM1522.5,1251.3 1511.8,1244.4 1511.8,1258.2ZM1553.8,1273.8 1543.1,1266.9 1543.1,1280.7ZM1585.1,1288.8 1574.4,1281.9 1574.4,1295.7ZM1616.3,1298.0 1605.6,1291.1 1605.6,1304.9ZM1647.6,1303.5 1636.9,1296.6 1636.9,1310.4ZM1678.9,1305.1 1668.2,1298.2 1668.2,1312.0ZM1710.2,1302.1 1699.5,1295.2 1699.5,1309.0ZM1741.4,1295.8 1730.7,1288.9 1730.7,1302.7ZM1772.7,1287.0 1762.0,1280.1 1762.0,1293.9ZM1804.0,1277.0 1793.3,1270.1 1793.3,1283.9ZM1835.2,1266.0 1824.5,1259.1 1824.5,1272.9ZM1866.5,1264.0 1855.8,1257.1 1855.8,1270.9ZM1897.8,1253.0 1887.1,1246.1 1887.1,1259.9Z" fill="#000080"/>
</g>
<g id="c_m8">
<path d="M489.8,966.2L508.5,976.7M521.5,983.0L539.4,990.4M553.1,994.6L570.3,998.1M584.6,999.4L601.4,999.1M615.7,997.8L632.8,994.7M646.7,991.0L664.4,984.5M677.6,978.7L696.1,969.1M708.4,961.8L727.7,948.8M739.4,940.3L759.3,924.6M770.4,915.4L790.9,897.5M801.5,887.8L822.3,868.7M832.5,858.5L853.9,835.8M863.5,825.1L885.4,799.6M894.7,788.6L916.7,762.2M926.2,751.3L947.8,727.3M957.6,716.8L978.9,694.2M989.2,684.1L1009.8,665.3M1021.1,656.4L1040.5,643.1M1053.2,636.6L1070.9,630.3M1084.9,628.0L1101.8,628.2M1115.6,631.1L1133.6,638.9M1145.8,646.4L1166.0,663.1M1176.2,673.2L1198.1,699.0M1206.9,710.4L1230.0,744.4M1237.8,756.5L1261.6,796.4M1268.8,808.9L1293.2,853.8M1299.9,866.6L1324.6,914.9M1331.1,927.8L1355.9,977.1M1362.5,989.9L1387.1,1037.1M1393.9,1049.7L1418.2,1093.3M1425.5,1105.8L1449.2,1144.0M1457.2,1156.0L1480.0,1187.6M1489.0,1198.8L1510.7,1223.4M1520.9,1233.5L1541.4,1251.5M1552.9,1260.1L1572.0,1272.4M1584.7,1279.2L1602.7,1287.0M1616.3,1291.8L1633.7,1296.5M1647.8,1299.3L1664.7,1301.4M1679.1,1302.3L1696.0,1302.2M1710.3,1301.1L1727.3,1298.8M1741.5,1296.3L1758.7,1292.5M1772.7,1289.4L1789.9,1285.6M1803.7,1281.4L1821.5,1274.6M1835.4,1272.0L1852.3,1272.0M1866.4,1269.8L1883.9,1264.2" fill="none" stroke="#800000" stroke-width="11.0"/>
<path d="M483.5,956.2 489.2,959.5 489.2,966.0 483.5,969.2 477.9,966.0 477.9,959.5ZM514.8,973.7 520.4,977.0 520.4,983.5 514.8,986.7 509.2,983.5 509.2,977.0ZM546.1,986.7 551.7,989.9 551.7,996.4 546.1,999.7 540.5,996.4 540.5,989.9ZM577.4,993.0 583.0,996.2 583.0,1002.7 577.4,1006.0 571.7,1002.7 571.7,996.2ZM608.6,992.5 614.3,995.8 614.3,1002.3 608.6,1005.5 603.0,1002.3 603.0,995.8ZM639.9,986.9 645.5,990.2 645.5,996.7 639.9,999.9 634.3,996.7 634.3,990.2ZM671.2,975.5 676.8,978.7 676.8,985.2 671.2,988.5 665.5,985.2 665.5,978.7ZM702.4,959.3 708.1,962.6 708.1,969.1 702.4,972.3 696.8,969.1 696.8,962.6ZM733.7,938.3 739.3,941.5 739.3,948.0 733.7,951.3 728.1,948.0 728.1,941.5ZM765.0,913.7 770.6,916.9 770.6,923.4 765.0,926.7 759.4,923.4 759.4,916.9ZM796.3,886.2 801.9,889.5 801.9,896.0 796.3,899.2 790.6,896.0 790.6,889.5ZM827.5,857.3 833.2,860.5 833.2,867.0 827.5,870.3 821.9,867.0 821.9,860.5ZM858.8,824.1 864.4,827.4 864.4,833.9 858.8,837.1 853.2,833.9 853.2,827.4ZM890.1,787.6 895.7,790.9 895.7,797.4 890.1,800.6 884.5,797.4 884.5,790.9ZM921.4,750.2 927.0,753.4 927.0,759.9 921.4,763.2 915.7,759.9 915.7,753.4ZM952.6,715.5 958.3,718.7 958.3,725.2 952.6,728.5 947.0,725.2 947.0,718.7ZM983.9,682.4 989.5,685.7 989.5,692.2 983.9,695.4 978.3,692.2 978.3,685.7ZM1015.2,654.0 1020.8,657.2 1020.8,663.7 1015.2,667.0 1009.5,663.7 1009.5,657.2ZM1046.4,632.5 1052.1,635.7 1052.1,642.2 1046.4,645.5 1040.8,642.2 1040.8,635.7ZM1077.7,621.4 1083.3,624.7 1083.3,631.2 1077.7,634.4 1072.1,631.2 1072.1,624.7ZM1109.0,621.8 1114.6,625.0 1114.6,631.5 1109.0,634.8 1103.4,631.5 1103.4,625.0ZM1140.3,635.3 1145.9,638.5 1145.9,645.0 1140.3,648.3 1134.6,645.0 1134.6,638.5ZM1171.5,661.2 1177.2,664.4 1177.2,670.9 1171.5,674.2 1165.9,670.9 1165.9,664.4ZM1202.8,698.0 1208.4,701.2 1208.4,707.7 1202.8,711.0 1197.2,707.7 1197.2,701.2ZM1234.1,743.9 1239.7,747.1 1239.7,753.6 1234.1,756.9 1228.4,753.6 1228.4,747.1ZM1265.3,796.0 1271.0,799.3 1271.0,805.8 1265.3,809.0 1259.7,805.8 1259.7,799.3ZM1296.6,853.7 1302.2,856.9 1302.2,863.4 1296.6,866.7 1291.0,863.4 1291.0,856.9ZM1327.9,914.8 1333.5,918.1 1333.5,924.6 1327.9,927.8 1322.3,924.6 1322.3,918.1ZM1359.2,977.1 1364.8,980.3 1364.8,986.8 1359.2,990.1 1353.5,986.8 1353.5,980.3ZM1390.4,1036.9 1396.1,1040.2 1396.1,1046.7 1390.4,1049.9 1384.8,1046.7 1384.8,1040.2ZM1421.7,1093.1 1427.3,1096.4 1427.3,1102.9 1421.7,1106.1 1416.1,1102.9 1416.1,1096.4ZM1453.0,1143.6 1458.6,1146.9 1458.6,1153.4 1453.0,1156.6 1447.3,1153.4 1447.3,1146.9ZM1484.2,1187.0 1489.9,1190.2 1489.9,1196.7 1484.2,1200.0 1478.6,1196.7 1478.6,1190.2ZM1515.5,1222.3 1521.1,1225.5 1521.1,1232.0 1515.5,1235.3 1509.9,1232.0 1509.9,1225.5ZM1546.8,1249.8 1552.4,1253.0 1552.4,1259.5 1546.8,1262.8 1541.2,1259.5 1541.2,1253.0ZM1578.1,1269.8 1583.7,1273.1 1583.7,1279.6 1578.1,1282.8 1572.4,1279.6 1572.4,1273.1ZM1609.3,1283.4 1615.0,1286.6 1615.0,1293.1 1609.3,1296.4 1603.7,1293.1 1603.7,1286.6ZM1640.6,1291.9 1646.2,1295.1 1646.2,1301.6 1640.6,1304.9 1635.0,1301.6 1635.0,1295.1ZM1671.9,1295.8 1677.5,1299.1 1677.5,1305.6 1671.9,1308.8 1666.3,1305.6 1666.3,1299.1ZM1703.2,1295.6 1708.8,1298.9 1708.8,1305.4 1703.2,1308.6 1697.5,1305.4 1697.5,1298.9ZM1734.4,1291.3 1740.1,1294.5 1740.1,1301.0 1734.4,1304.3 1728.8,1301.0 1728.8,1294.5ZM1765.7,1284.5 1771.3,1287.8 1771.3,1294.2 1765.7,1297.5 1760.1,1294.2 1760.1,1287.8ZM1797.0,1277.5 1802.6,1280.8 1802.6,1287.2 1797.0,1290.5 1791.3,1287.2 1791.3,1280.8ZM1828.2,1265.5 1833.9,1268.8 1833.9,1275.2 1828.2,1278.5 1822.6,1275.2 1822.6,1268.8ZM1859.5,1265.5 1865.1,1268.8 1865.1,1275.2 1859.5,1278.5 1853.9,1275.2 1853.9,1268.8ZM1890.8,1255.5 1896.4,1258.8 1896.4,1265.2 1890.8,1268.5 1885.2,1265.2 1885.2,1258.8Z" fill="#800000"/>
</g>
<g id="c_m7">
<path d="M489.8,947.2L508.5,957.6M521.5,963.8L539.4,970.9M553.2,974.9L570.3,978.0M584.6,979.0L601.4,978.4M615.7,976.5L632.9,972.7M646.6,968.6L664.5,961.8M677.5,955.7L696.2,945.4M708.2,937.5L728.0,922.5M739.0,913.2L759.7,894.2M770.0,884.2L791.3,862.2M801.1,851.7L822.7,827.5M832.1,816.6L854.2,789.8M863.3,778.6L885.6,750.2M894.5,738.9L916.9,709.8M925.7,698.4L948.3,668.8M957.2,657.4L979.4,630.0M988.9,619.2L1010.2,597.1M1020.9,587.6L1040.7,572.7M1053.1,565.6L1071.1,558.1M1084.9,555.3L1101.8,555.2M1115.6,558.0L1133.6,565.7M1145.8,573.1L1166.0,589.6M1176.1,599.7L1198.2,626.2M1206.7,637.8L1230.1,673.8M1237.6,686.1L1261.8,729.1M1268.6,741.8L1293.3,789.9M1299.8,802.7L1324.7,853.5M1331.0,866.4L1356.0,918.4M1362.3,931.4L1387.3,982.4M1393.7,995.3L1418.4,1044.1M1425.2,1056.8L1449.5,1100.9M1456.8,1113.3L1480.4,1151.0M1488.5,1162.9L1511.2,1193.4M1520.4,1204.5L1541.9,1227.7M1552.3,1237.6L1572.5,1254.3M1584.3,1262.5L1603.1,1273.4M1616.1,1279.5L1633.9,1286.1M1647.7,1290.1L1664.8,1293.6M1679.1,1295.3L1696.0,1295.9M1710.3,1295.2L1727.3,1293.0M1741.4,1290.4L1758.7,1286.2M1772.6,1282.6L1790.0,1277.9M1803.9,1274.2L1821.3,1269.8M1835.4,1267.8L1852.3,1267.2M1866.4,1265.0L1883.9,1260.0" fill="none" stroke="#ff0080" stroke-width="11.0"/>
<path d="M483.5,937.7 485.1,941.9 489.6,942.1 486.1,944.9 487.3,949.3 483.5,946.8 479.8,949.3 481.0,944.9 477.5,942.1 482.0,941.9ZM514.8,955.1 516.4,959.3 520.9,959.5 517.4,962.3 518.6,966.7 514.8,964.2 511.1,966.7 512.2,962.3 508.7,959.5 513.2,959.3ZM546.1,967.6 547.7,971.8 552.2,972.0 548.7,974.8 549.8,979.1 546.1,976.7 542.3,979.1 543.5,974.8 540.0,972.0 544.5,971.8ZM577.4,973.3 578.9,977.5 583.4,977.7 579.9,980.6 581.1,984.9 577.4,982.4 573.6,984.9 574.8,980.6 571.3,977.7 575.8,977.5ZM608.6,972.1 610.2,976.3 614.7,976.5 611.2,979.3 612.4,983.7 608.6,981.2 604.9,983.7 606.1,979.3 602.5,976.5 607.0,976.3ZM639.9,965.2 641.5,969.4 646.0,969.6 642.5,972.4 643.7,976.8 639.9,974.3 636.1,976.8 637.3,972.4 633.8,969.6 638.3,969.4ZM671.2,953.2 672.8,957.4 677.3,957.7 673.7,960.5 674.9,964.8 671.2,962.3 667.4,964.8 668.6,960.5 665.1,957.7 669.6,957.4ZM702.4,935.9 704.0,940.1 708.5,940.3 705.0,943.1 706.2,947.4 702.4,945.0 698.7,947.4 699.9,943.1 696.4,940.3 700.9,940.1ZM733.7,912.1 735.3,916.3 739.8,916.5 736.3,919.3 737.5,923.7 733.7,921.2 730.0,923.7 731.2,919.3 727.6,916.5 732.1,916.3ZM765.0,883.3 766.6,887.5 771.1,887.8 767.6,890.6 768.8,894.9 765.0,892.4 761.2,894.9 762.4,890.6 758.9,887.8 763.4,887.5ZM796.3,851.1 797.9,855.3 802.4,855.5 798.8,858.3 800.0,862.6 796.3,860.2 792.5,862.6 793.7,858.3 790.2,855.5 794.7,855.3ZM827.5,816.2 829.1,820.4 833.6,820.6 830.1,823.4 831.3,827.8 827.5,825.3 823.8,827.8 825.0,823.4 821.4,820.6 825.9,820.4ZM858.8,778.3 860.4,782.5 864.9,782.7 861.4,785.5 862.6,789.8 858.8,787.4 855.0,789.8 856.2,785.5 852.7,782.7 857.2,782.5ZM890.1,738.6 891.7,742.8 896.2,743.0 892.6,745.8 893.8,750.1 890.1,747.7 886.3,750.1 887.5,745.8 884.0,743.0 888.5,742.8ZM921.4,698.1 922.9,702.3 927.4,702.6 923.9,705.4 925.1,709.7 921.4,707.2 917.6,709.7 918.8,705.4 915.3,702.6 919.8,702.3ZM952.6,657.0 954.2,661.2 958.7,661.4 955.2,664.3 956.4,668.6 952.6,666.1 948.9,668.6 950.1,664.3 946.5,661.4 951.0,661.2ZM983.9,618.4 985.5,622.6 990.0,622.8 986.5,625.6 987.7,629.9 983.9,627.5 980.1,629.9 981.3,625.6 977.8,622.8 982.3,622.6ZM1015.2,585.9 1016.8,590.1 1021.3,590.3 1017.7,593.1 1018.9,597.5 1015.2,595.0 1011.4,597.5 1012.6,593.1 1009.1,590.3 1013.6,590.1ZM1046.4,562.4 1048.0,566.6 1052.5,566.8 1049.0,569.6 1050.2,574.0 1046.4,571.5 1042.7,574.0 1043.9,569.6 1040.4,566.8 1044.9,566.6ZM1077.7,549.3 1079.3,553.5 1083.8,553.7 1080.3,556.5 1081.5,560.9 1077.7,558.4 1074.0,560.9 1075.1,556.5 1071.6,553.7 1076.1,553.5ZM1109.0,549.2 1110.6,553.4 1115.1,553.6 1111.6,556.4 1112.7,560.8 1109.0,558.3 1105.2,560.8 1106.4,556.4 1102.9,553.6 1107.4,553.4ZM1140.3,562.5 1141.8,566.7 1146.3,566.9 1142.8,569.7 1144.0,574.1 1140.3,571.6 1136.5,574.1 1137.7,569.7 1134.2,566.9 1138.7,566.7ZM1171.5,588.2 1173.1,592.4 1177.6,592.6 1174.1,595.4 1175.3,599.8 1171.5,597.3 1167.8,599.8 1169.0,595.4 1165.4,592.6 1169.9,592.4ZM1202.8,625.7 1204.4,629.9 1208.9,630.1 1205.4,633.0 1206.6,637.3 1202.8,634.8 1199.0,637.3 1200.2,633.0 1196.7,630.1 1201.2,629.9ZM1234.1,673.8 1235.7,678.0 1240.2,678.2 1236.6,681.0 1237.8,685.4 1234.1,682.9 1230.3,685.4 1231.5,681.0 1228.0,678.2 1232.5,678.0ZM1265.3,729.4 1266.9,733.6 1271.4,733.8 1267.9,736.6 1269.1,740.9 1265.3,738.5 1261.6,740.9 1262.8,736.6 1259.3,733.8 1263.8,733.6ZM1296.6,790.3 1298.2,794.5 1302.7,794.7 1299.2,797.5 1300.4,801.8 1296.6,799.4 1292.9,801.8 1294.0,797.5 1290.5,794.7 1295.0,794.5ZM1327.9,853.9 1329.5,858.1 1334.0,858.3 1330.5,861.2 1331.6,865.5 1327.9,863.0 1324.1,865.5 1325.3,861.2 1321.8,858.3 1326.3,858.1ZM1359.2,918.9 1360.7,923.1 1365.2,923.3 1361.7,926.1 1362.9,930.5 1359.2,928.0 1355.4,930.5 1356.6,926.1 1353.1,923.3 1357.6,923.1ZM1390.4,982.9 1392.0,987.1 1396.5,987.3 1393.0,990.1 1394.2,994.5 1390.4,992.0 1386.7,994.5 1387.9,990.1 1384.3,987.3 1388.8,987.1ZM1421.7,1044.5 1423.3,1048.7 1427.8,1048.9 1424.3,1051.7 1425.5,1056.1 1421.7,1053.6 1417.9,1056.1 1419.1,1051.7 1415.6,1048.9 1420.1,1048.7ZM1453.0,1101.2 1454.6,1105.5 1459.1,1105.7 1455.5,1108.5 1456.7,1112.8 1453.0,1110.3 1449.2,1112.8 1450.4,1108.5 1446.9,1105.7 1451.4,1105.5ZM1484.2,1151.1 1485.8,1155.3 1490.3,1155.5 1486.8,1158.3 1488.0,1162.7 1484.2,1160.2 1480.5,1162.7 1481.7,1158.3 1478.2,1155.5 1482.7,1155.3ZM1515.5,1193.2 1517.1,1197.4 1521.6,1197.6 1518.1,1200.4 1519.3,1204.7 1515.5,1202.3 1511.8,1204.7 1513.0,1200.4 1509.4,1197.6 1513.9,1197.4ZM1546.8,1227.0 1548.4,1231.2 1552.9,1231.4 1549.4,1234.2 1550.6,1238.5 1546.8,1236.1 1543.0,1238.5 1544.2,1234.2 1540.7,1231.4 1545.2,1231.2ZM1578.1,1252.9 1579.7,1257.1 1584.2,1257.3 1580.6,1260.1 1581.8,1264.4 1578.1,1262.0 1574.3,1264.4 1575.5,1260.1 1572.0,1257.3 1576.5,1257.1ZM1609.3,1271.0 1610.9,1275.2 1615.4,1275.4 1611.9,1278.2 1613.1,1282.6 1609.3,1280.1 1605.6,1282.6 1606.8,1278.2 1603.2,1275.4 1607.7,1275.2ZM1640.6,1282.6 1642.2,1286.8 1646.7,1287.1 1643.2,1289.9 1644.4,1294.2 1640.6,1291.7 1636.8,1294.2 1638.0,1289.9 1634.5,1287.1 1639.0,1286.8ZM1671.9,1289.1 1673.5,1293.3 1678.0,1293.5 1674.4,1296.3 1675.6,1300.7 1671.9,1298.2 1668.1,1300.7 1669.3,1296.3 1665.8,1293.5 1670.3,1293.3ZM1703.2,1290.2 1704.7,1294.4 1709.2,1294.6 1705.7,1297.4 1706.9,1301.7 1703.2,1299.3 1699.4,1301.7 1700.6,1297.4 1697.1,1294.6 1701.6,1294.4ZM1734.4,1286.1 1736.0,1290.3 1740.5,1290.5 1737.0,1293.3 1738.2,1297.7 1734.4,1295.2 1730.7,1297.7 1731.9,1293.3 1728.3,1290.5 1732.8,1290.3ZM1765.7,1278.5 1767.3,1282.7 1771.8,1282.9 1768.3,1285.7 1769.5,1290.1 1765.7,1287.6 1761.9,1290.1 1763.1,1285.7 1759.6,1282.9 1764.1,1282.7ZM1797.0,1270.0 1798.6,1274.2 1803.1,1274.4 1799.5,1277.2 1800.7,1281.6 1797.0,1279.1 1793.2,1281.6 1794.4,1277.2 1790.9,1274.4 1795.4,1274.2ZM1828.2,1262.0 1829.8,1266.2 1834.3,1266.4 1830.8,1269.2 1832.0,1273.6 1828.2,1271.1 1824.5,1273.6 1825.7,1269.2 1822.2,1266.4 1826.7,1266.2ZM1859.5,1261.0 1861.1,1265.2 1865.6,1265.4 1862.1,1268.2 1863.3,1272.6 1859.5,1270.1 1855.8,1272.6 1856.9,1268.2 1853.4,1265.4 1857.9,1265.2ZM1890.8,1252.0 1892.4,1256.2 1896.9,1256.4 1893.4,1259.2 1894.5,1263.6 1890.8,1261.1 1887.0,1263.6 1888.2,1259.2 1884.7,1256.4 1889.2,1256.2Z" fill="#ff0080"/>
</g>
<g id="c_m6">
<path d="M489.8,936.3L508.5,946.7M521.6,952.6L539.3,958.8M553.2,962.0L570.2,963.9M584.5,964.0L601.5,962.4M615.6,959.7L633.0,954.9M646.3,949.7L664.7,940.6M677.1,933.3L696.5,919.9M707.9,911.0L728.3,893.3M738.8,883.4L759.9,862.1M769.7,851.6L791.5,826.7M800.8,815.7L823.0,788.0M831.8,776.6L854.5,745.7M862.9,734.0L885.9,701.3M894.2,689.6L917.2,656.6M925.6,644.8L948.4,613.5M957.1,602.0L979.4,573.9M988.8,563.0L1010.2,540.4M1020.9,530.9L1040.7,516.1M1053.2,509.4L1070.9,503.0M1084.9,501.2L1101.8,502.6M1115.3,506.6L1133.9,516.5M1145.5,524.9L1166.3,544.9M1175.9,555.7L1198.5,585.7M1206.5,597.6L1230.3,636.7M1237.5,649.1L1261.9,694.3M1268.5,707.1L1293.5,758.2M1299.7,771.2L1324.8,823.8M1330.9,836.8L1356.1,891.1M1362.2,904.2L1387.4,957.9M1393.5,971.0L1418.6,1024.5M1425.0,1037.4L1449.7,1085.9M1456.7,1098.5L1480.6,1138.5M1488.4,1150.6L1511.3,1182.4M1520.3,1193.6L1542.0,1217.8M1552.1,1228.0L1572.7,1246.8M1584.1,1255.5L1603.3,1267.6M1616.0,1274.2L1633.9,1281.4M1647.7,1285.5L1664.8,1288.7M1679.1,1290.4L1696.0,1291.4M1710.3,1291.2L1727.2,1289.9M1741.5,1288.0L1758.6,1284.8M1772.8,1282.2L1789.9,1278.9M1803.9,1275.8L1821.3,1271.3M1835.4,1269.5L1852.3,1269.5M1866.3,1267.2L1884.0,1261.3" fill="none" stroke="#008000" stroke-width="11.0"/>
<path d="M483.5,926.9 489.5,931.3 487.2,938.3 479.8,938.3 477.6,931.3ZM514.8,944.3 520.8,948.7 518.5,955.7 511.1,955.7 508.8,948.7ZM546.1,955.3 552.1,959.6 549.8,966.7 542.4,966.7 540.1,959.6ZM577.4,958.9 583.4,963.2 581.1,970.2 573.7,970.2 571.4,963.2ZM608.6,955.8 614.6,960.1 612.3,967.2 604.9,967.2 602.6,960.1ZM639.9,947.0 645.9,951.4 643.6,958.4 636.2,958.4 633.9,951.4ZM671.2,931.4 677.2,935.8 674.9,942.8 667.5,942.8 665.2,935.8ZM702.4,909.9 708.4,914.2 706.2,921.3 698.7,921.3 696.5,914.2ZM733.7,882.6 739.7,887.0 737.4,894.0 730.0,894.0 727.7,887.0ZM765.0,851.1 771.0,855.5 768.7,862.5 761.3,862.5 759.0,855.5ZM796.3,815.4 802.3,819.8 800.0,826.8 792.6,826.8 790.3,819.8ZM827.5,776.5 833.5,780.9 831.2,787.9 823.8,787.9 821.5,780.9ZM858.8,734.0 864.8,738.4 862.5,745.4 855.1,745.4 852.8,738.4ZM890.1,689.6 896.1,693.9 893.8,701.0 886.4,701.0 884.1,693.9ZM921.4,644.8 927.3,649.1 925.1,656.2 917.6,656.2 915.4,649.1ZM952.6,601.8 958.6,606.1 956.3,613.2 948.9,613.2 946.6,606.1ZM983.9,562.4 989.9,566.7 987.6,573.8 980.2,573.8 977.9,566.7ZM1015.2,529.3 1021.2,533.7 1018.9,540.7 1011.5,540.7 1009.2,533.7ZM1046.4,505.9 1052.4,510.2 1050.1,517.3 1042.7,517.3 1040.4,510.2ZM1077.7,494.7 1083.7,499.1 1081.4,506.1 1074.0,506.1 1071.7,499.1ZM1109.0,497.3 1115.0,501.6 1112.7,508.7 1105.3,508.7 1103.0,501.6ZM1140.3,514.0 1146.2,518.4 1144.0,525.4 1136.6,525.4 1134.3,518.4ZM1171.5,544.0 1177.5,548.4 1175.2,555.4 1167.8,555.4 1165.5,548.4ZM1202.8,585.5 1208.8,589.9 1206.5,596.9 1199.1,596.9 1196.8,589.9ZM1234.1,636.9 1240.1,641.3 1237.8,648.3 1230.4,648.3 1228.1,641.3ZM1265.3,694.8 1271.3,699.1 1269.0,706.2 1261.6,706.2 1259.4,699.1ZM1296.6,758.8 1302.6,763.1 1300.3,770.2 1292.9,770.2 1290.6,763.1ZM1327.9,824.4 1333.9,828.7 1331.6,835.8 1324.2,835.8 1321.9,828.7ZM1359.2,891.8 1365.2,896.1 1362.9,903.2 1355.5,903.2 1353.2,896.1ZM1390.4,958.6 1396.4,962.9 1394.1,969.9 1386.7,969.9 1384.4,962.9ZM1421.7,1025.1 1427.7,1029.5 1425.4,1036.5 1418.0,1036.5 1415.7,1029.5ZM1453.0,1086.4 1459.0,1090.8 1456.7,1097.8 1449.3,1097.8 1447.0,1090.8ZM1484.2,1138.8 1490.2,1143.2 1488.0,1150.2 1480.5,1150.2 1478.3,1143.2ZM1515.5,1182.4 1521.5,1186.7 1519.2,1193.8 1511.8,1193.8 1509.5,1186.7ZM1546.8,1217.2 1552.8,1221.6 1550.5,1228.6 1543.1,1228.6 1540.8,1221.6ZM1578.1,1245.7 1584.1,1250.1 1581.8,1257.1 1574.4,1257.1 1572.1,1250.1ZM1609.3,1265.6 1615.3,1269.9 1613.0,1277.0 1605.6,1277.0 1603.3,1269.9ZM1640.6,1278.2 1646.6,1282.6 1644.3,1289.6 1636.9,1289.6 1634.6,1282.6ZM1671.9,1284.1 1677.9,1288.5 1675.6,1295.5 1668.2,1295.5 1665.9,1288.5ZM1703.2,1285.9 1709.1,1290.3 1706.9,1297.3 1699.4,1297.3 1697.2,1290.3ZM1734.4,1283.4 1740.4,1287.8 1738.1,1294.8 1730.7,1294.8 1728.4,1287.8ZM1765.7,1277.6 1771.7,1282.0 1769.4,1289.0 1762.0,1289.0 1759.7,1282.0ZM1797.0,1271.7 1803.0,1276.1 1800.7,1283.1 1793.3,1283.1 1791.0,1276.1ZM1828.2,1263.6 1834.2,1268.0 1831.9,1275.0 1824.5,1275.0 1822.2,1268.0ZM1859.5,1263.6 1865.5,1268.0 1863.2,1275.0 1855.8,1275.0 1853.5,1268.0ZM1890.8,1253.1 1896.8,1257.5 1894.5,1264.5 1887.1,1264.5 1884.8,1257.5Z" fill="#008000"/>
</g>
<g id="c_m5">
<path d="M490.2,926.9L508.2,934.3M521.9,938.6L539.0,942.3M553.3,943.7L570.2,943.5M584.4,941.8L601.6,937.9M615.2,933.3L633.4,925.1M645.9,918.1L665.2,905.3M676.6,896.6L697.0,879.2M707.5,869.4L728.7,848.1M738.5,837.6L760.2,813.0M769.5,801.9L791.8,773.7M800.5,762.2L823.3,730.4M831.5,718.5L854.8,683.4M862.7,671.4L886.2,635.2M894.0,623.2L917.4,587.6M925.5,575.7L948.5,543.3M957.1,531.8L979.4,504.1M989.0,493.5L1010.0,472.9M1021.3,464.1L1040.3,452.6M1053.6,447.8L1070.6,445.3M1084.6,446.4L1102.1,452.1M1114.7,458.7L1134.5,473.9M1144.9,483.8L1166.9,509.6M1175.5,521.1L1198.8,556.5M1206.3,568.8L1230.6,612.1M1237.3,624.8L1262.1,674.3M1268.4,687.3L1293.6,742.2M1299.5,755.3L1325.0,813.1M1330.8,826.3L1356.3,884.4M1362.1,897.5L1387.5,953.6M1393.5,966.7L1418.6,1020.0M1425.0,1032.9L1449.7,1081.4M1456.6,1094.1L1480.7,1136.2M1488.3,1148.4L1511.5,1182.8M1520.1,1194.3L1542.2,1220.7M1552.1,1231.1L1572.8,1250.2M1584.1,1259.1L1603.3,1271.7M1616.0,1278.4L1634.0,1285.9M1647.6,1290.2L1664.8,1294.0M1679.1,1296.1L1696.0,1297.5M1710.3,1297.8L1727.2,1297.3M1741.6,1296.3L1758.5,1294.3M1772.8,1292.4L1789.9,1289.6M1804.0,1286.9L1821.2,1283.1M1835.4,1281.9L1852.3,1282.9M1866.2,1280.6L1884.1,1273.5" fill="none" stroke="#0000a0" stroke-width="11.0"/>
<path d="M485.7,918.9 488.7,922.0 488.7,926.2 485.7,929.3 481.4,929.3 478.4,926.2 478.4,922.0 481.4,918.9ZM517.0,931.9 520.0,935.0 520.0,939.2 517.0,942.3 512.7,942.3 509.6,939.2 509.6,935.0 512.7,931.9ZM548.2,938.6 551.3,941.6 551.3,945.9 548.2,949.0 543.9,949.0 540.9,945.9 540.9,941.6 543.9,938.6ZM579.5,938.3 582.5,941.3 582.5,945.6 579.5,948.6 575.2,948.6 572.2,945.6 572.2,941.3 575.2,938.3ZM610.8,931.1 613.8,934.2 613.8,938.4 610.8,941.5 606.5,941.5 603.5,938.4 603.5,934.2 606.5,931.1ZM642.0,916.9 645.1,919.9 645.1,924.2 642.0,927.2 637.8,927.2 634.7,924.2 634.7,919.9 637.8,916.9ZM673.3,896.1 676.3,899.2 676.3,903.5 673.3,906.5 669.0,906.5 666.0,903.5 666.0,899.2 669.0,896.1ZM704.6,869.3 707.6,872.4 707.6,876.7 704.6,879.7 700.3,879.7 697.3,876.7 697.3,872.4 700.3,869.3ZM735.9,837.8 738.9,840.8 738.9,845.1 735.9,848.1 731.6,848.1 728.5,845.1 728.5,840.8 731.6,837.8ZM767.1,802.4 770.2,805.4 770.2,809.7 767.1,812.8 762.8,812.8 759.8,809.7 759.8,805.4 762.8,802.4ZM798.4,762.9 801.4,765.9 801.4,770.2 798.4,773.2 794.1,773.2 791.1,770.2 791.1,765.9 794.1,762.9ZM829.7,719.4 832.7,722.4 832.7,726.7 829.7,729.7 825.4,729.7 822.4,726.7 822.4,722.4 825.4,719.4ZM861.0,672.2 864.0,675.3 864.0,679.6 861.0,682.6 856.7,682.6 853.6,679.6 853.6,675.3 856.7,672.2ZM892.2,624.0 895.3,627.1 895.3,631.3 892.2,634.4 887.9,634.4 884.9,631.3 884.9,627.1 887.9,624.0ZM923.5,576.4 926.5,579.5 926.5,583.8 923.5,586.8 919.2,586.8 916.2,583.8 916.2,579.5 919.2,576.4ZM954.8,532.3 957.8,535.3 957.8,539.6 954.8,542.6 950.5,542.6 947.5,539.6 947.5,535.3 950.5,532.3ZM986.0,493.4 989.1,496.4 989.1,500.7 986.0,503.7 981.8,503.7 978.7,500.7 978.7,496.4 981.8,493.4ZM1017.3,462.6 1020.3,465.7 1020.3,470.0 1017.3,473.0 1013.0,473.0 1010.0,470.0 1010.0,465.7 1013.0,462.6ZM1048.6,443.7 1051.6,446.8 1051.6,451.0 1048.6,454.1 1044.3,454.1 1041.3,451.0 1041.3,446.8 1044.3,443.7ZM1079.9,439.0 1082.9,442.1 1082.9,446.3 1079.9,449.4 1075.6,449.4 1072.5,446.3 1072.5,442.1 1075.6,439.0ZM1111.1,449.1 1114.2,452.1 1114.2,456.4 1111.1,459.4 1106.8,459.4 1103.8,456.4 1103.8,452.1 1106.8,449.1ZM1142.4,473.1 1145.4,476.2 1145.4,480.5 1142.4,483.5 1138.1,483.5 1135.1,480.5 1135.1,476.2 1138.1,473.1ZM1173.7,509.9 1176.7,513.0 1176.7,517.3 1173.7,520.3 1169.4,520.3 1166.4,517.3 1166.4,513.0 1169.4,509.9ZM1204.9,557.3 1208.0,560.4 1208.0,564.7 1204.9,567.7 1200.7,567.7 1197.6,564.7 1197.6,560.4 1200.7,557.3ZM1236.2,613.2 1239.2,616.2 1239.2,620.5 1236.2,623.5 1231.9,623.5 1228.9,620.5 1228.9,616.2 1231.9,613.2ZM1267.5,675.6 1270.5,678.6 1270.5,682.9 1267.5,685.9 1263.2,685.9 1260.2,682.9 1260.2,678.6 1263.2,675.6ZM1298.8,743.5 1301.8,746.6 1301.8,750.9 1298.8,753.9 1294.5,753.9 1291.4,750.9 1291.4,746.6 1294.5,743.5ZM1330.0,814.5 1333.1,817.5 1333.1,821.8 1330.0,824.9 1325.7,824.9 1322.7,821.8 1322.7,817.5 1325.7,814.5ZM1361.3,885.8 1364.3,888.8 1364.3,893.1 1361.3,896.1 1357.0,896.1 1354.0,893.1 1354.0,888.8 1357.0,885.8ZM1392.6,955.0 1395.6,958.0 1395.6,962.3 1392.6,965.3 1388.3,965.3 1385.3,962.3 1385.3,958.0 1388.3,955.0ZM1423.8,1021.4 1426.9,1024.4 1426.9,1028.7 1423.8,1031.7 1419.6,1031.7 1416.5,1028.7 1416.5,1024.4 1419.6,1021.4ZM1455.1,1082.6 1458.1,1085.7 1458.1,1090.0 1455.1,1093.0 1450.8,1093.0 1447.8,1090.0 1447.8,1085.7 1450.8,1082.6ZM1486.4,1137.3 1489.4,1140.3 1489.4,1144.6 1486.4,1147.6 1482.1,1147.6 1479.1,1144.6 1479.1,1140.3 1482.1,1137.3ZM1517.7,1183.6 1520.7,1186.6 1520.7,1190.9 1517.7,1194.0 1513.4,1194.0 1510.3,1190.9 1510.3,1186.6 1513.4,1183.6ZM1548.9,1221.1 1552.0,1224.1 1552.0,1228.4 1548.9,1231.4 1544.6,1231.4 1541.6,1228.4 1541.6,1224.1 1544.6,1221.1ZM1580.2,1249.9 1583.2,1253.0 1583.2,1257.3 1580.2,1260.3 1575.9,1260.3 1572.9,1257.3 1572.9,1253.0 1575.9,1249.9ZM1611.5,1270.5 1614.5,1273.5 1614.5,1277.8 1611.5,1280.9 1607.2,1280.9 1604.2,1277.8 1604.2,1273.5 1607.2,1270.5ZM1642.8,1283.5 1645.8,1286.5 1645.8,1290.8 1642.8,1293.8 1638.5,1293.8 1635.4,1290.8 1635.4,1286.5 1638.5,1283.5ZM1674.0,1290.3 1677.1,1293.3 1677.1,1297.6 1674.0,1300.7 1669.7,1300.7 1666.7,1297.6 1666.7,1293.3 1669.7,1290.3ZM1705.3,1292.9 1708.3,1295.9 1708.3,1300.2 1705.3,1303.2 1701.0,1303.2 1698.0,1300.2 1698.0,1295.9 1701.0,1292.9ZM1736.6,1291.9 1739.6,1295.0 1739.6,1299.2 1736.6,1302.3 1732.3,1302.3 1729.3,1299.2 1729.3,1295.0 1732.3,1291.9ZM1767.8,1288.3 1770.9,1291.4 1770.9,1295.6 1767.8,1298.7 1763.6,1298.7 1760.5,1295.6 1760.5,1291.4 1763.6,1288.3ZM1799.1,1283.3 1802.1,1286.4 1802.1,1290.6 1799.1,1293.7 1794.8,1293.7 1791.8,1290.6 1791.8,1286.4 1794.8,1283.3ZM1830.4,1276.3 1833.4,1279.4 1833.4,1283.6 1830.4,1286.7 1826.1,1286.7 1823.1,1283.6 1823.1,1279.4 1826.1,1276.3ZM1861.7,1278.1 1864.7,1281.2 1864.7,1285.4 1861.7,1288.5 1857.4,1288.5 1854.3,1285.4 1854.3,1281.2 1857.4,1278.1ZM1892.9,1265.6 1896.0,1268.7 1896.0,1272.9 1892.9,1276.0 1888.6,1276.0 1885.6,1272.9 1885.6,1268.7 1888.6,1265.6Z" fill="#0000a0"/>
<path d="M478.7,922.0a2.67,2.67 0 1,0 5.33,0a2.67,2.67 0 1,0 -5.33,0ZM510.0,935.0a2.67,2.67 0 1,0 5.33,0a2.67,2.67 0 1,0 -5.33,0ZM541.3,941.7a2.67,2.67 0 1,0 5.33,0a2.67,2.67 0 1,0 -5.33,0ZM572.5,941.4a2.67,2.67 0 1,0 5.33,0a2.67,2.67 0 1,0 -5.33,0ZM603.8,934.2a2.67,2.67 0 1,0 5.33,0a2.67,2.67 0 1,0 -5.33,0ZM635.1,920.0a2.67,2.67 0 1,0 5.33,0a2.67,2.67 0 1,0 -5.33,0ZM666.4,899.3a2.67,2.67 0 1,0 5.33,0a2.67,2.67 0 1,0 -5.33,0ZM697.6,872.4a2.67,2.67 0 1,0 5.33,0a2.67,2.67 0 1,0 -5.33,0ZM728.9,840.9a2.67,2.67 0 1,0 5.33,0a2.67,2.67 0 1,0 -5.33,0ZM760.2,805.5a2.67,2.67 0 1,0 5.33,0a2.67,2.67 0 1,0 -5.33,0ZM791.4,766.0a2.67,2.67 0 1,0 5.33,0a2.67,2.67 0 1,0 -5.33,0ZM822.7,722.5a2.67,2.67 0 1,0 5.33,0a2.67,2.67 0 1,0 -5.33,0ZM854.0,675.4a2.67,2.67 0 1,0 5.33,0a2.67,2.67 0 1,0 -5.33,0ZM885.3,627.1a2.67,2.67 0 1,0 5.33,0a2.67,2.67 0 1,0 -5.33,0ZM916.5,579.6a2.67,2.67 0 1,0 5.33,0a2.67,2.67 0 1,0 -5.33,0ZM947.8,535.4a2.67,2.67 0 1,0 5.33,0a2.67,2.67 0 1,0 -5.33,0ZM979.1,496.5a2.67,2.67 0 1,0 5.33,0a2.67,2.67 0 1,0 -5.33,0ZM1010.4,465.7a2.67,2.67 0 1,0 5.33,0a2.67,2.67 0 1,0 -5.33,0ZM1041.6,446.8a2.67,2.67 0 1,0 5.33,0a2.67,2.67 0 1,0 -5.33,0ZM1072.9,442.1a2.67,2.67 0 1,0 5.33,0a2.67,2.67 0 1,0 -5.33,0ZM1104.2,452.2a2.67,2.67 0 1,0 5.33,0a2.67,2.67 0 1,0 -5.33,0ZM1135.4,476.3a2.67,2.67 0 1,0 5.33,0a2.67,2.67 0 1,0 -5.33,0ZM1166.7,513.1a2.67,2.67 0 1,0 5.33,0a2.67,2.67 0 1,0 -5.33,0ZM1198.0,560.4a2.67,2.67 0 1,0 5.33,0a2.67,2.67 0 1,0 -5.33,0ZM1229.3,616.3a2.67,2.67 0 1,0 5.33,0a2.67,2.67 0 1,0 -5.33,0ZM1260.5,678.7a2.67,2.67 0 1,0 5.33,0a2.67,2.67 0 1,0 -5.33,0ZM1291.8,746.7a2.67,2.67 0 1,0 5.33,0a2.67,2.67 0 1,0 -5.33,0ZM1323.1,817.6a2.67,2.67 0 1,0 5.33,0a2.67,2.67 0 1,0 -5.33,0ZM1354.3,888.9a2.67,2.67 0 1,0 5.33,0a2.67,2.67 0 1,0 -5.33,0ZM1385.6,958.1a2.67,2.67 0 1,0 5.33,0a2.67,2.67 0 1,0 -5.33,0ZM1416.9,1024.5a2.67,2.67 0 1,0 5.33,0a2.67,2.67 0 1,0 -5.33,0ZM1448.2,1085.8a2.67,2.67 0 1,0 5.33,0a2.67,2.67 0 1,0 -5.33,0ZM1479.4,1140.4a2.67,2.67 0 1,0 5.33,0a2.67,2.67 0 1,0 -5.33,0ZM1510.7,1186.7a2.67,2.67 0 1,0 5.33,0a2.67,2.67 0 1,0 -5.33,0ZM1542.0,1224.2a2.67,2.67 0 1,0 5.33,0a2.67,2.67 0 1,0 -5.33,0ZM1573.2,1253.0a2.67,2.67 0 1,0 5.33,0a2.67,2.67 0 1,0 -5.33,0ZM1604.5,1273.6a2.67,2.67 0 1,0 5.33,0a2.67,2.67 0 1,0 -5.33,0ZM1635.8,1286.6a2.67,2.67 0 1,0 5.33,0a2.67,2.67 0 1,0 -5.33,0ZM1667.1,1293.4a2.67,2.67 0 1,0 5.33,0a2.67,2.67 0 1,0 -5.33,0ZM1698.3,1296.0a2.67,2.67 0 1,0 5.33,0a2.67,2.67 0 1,0 -5.33,0ZM1729.6,1295.0a2.67,2.67 0 1,0 5.33,0a2.67,2.67 0 1,0 -5.33,0ZM1760.9,1291.4a2.67,2.67 0 1,0 5.33,0a2.67,2.67 0 1,0 -5.33,0ZM1792.2,1286.4a2.67,2.67 0 1,0 5.33,0a2.67,2.67 0 1,0 -5.33,0ZM1823.4,1279.4a2.67,2.67 0 1,0 5.33,0a2.67,2.67 0 1,0 -5.33,0ZM1854.7,1281.2a2.67,2.67 0 1,0 5.33,0a2.67,2.67 0 1,0 -5.33,0ZM1886.0,1268.7a2.67,2.67 0 1,0 5.33,0a2.67,2.67 0 1,0 -5.33,0Z" fill="#a0a0e6" fill-opacity="0.8"/>
<path d="M479.7,922.0a1.72,1.72 0 1,0 3.44,0a1.72,1.72 0 1,0 -3.44,0ZM510.9,935.0a1.72,1.72 0 1,0 3.44,0a1.72,1.72 0 1,0 -3.44,0ZM542.2,941.6a1.72,1.72 0 1,0 3.44,0a1.72,1.72 0 1,0 -3.44,0ZM573.5,941.3a1.72,1.72 0 1,0 3.44,0a1.72,1.72 0 1,0 -3.44,0ZM604.8,934.2a1.72,1.72 0 1,0 3.44,0a1.72,1.72 0 1,0 -3.44,0ZM636.0,919.9a1.72,1.72 0 1,0 3.44,0a1.72,1.72 0 1,0 -3.44,0ZM667.3,899.2a1.72,1.72 0 1,0 3.44,0a1.72,1.72 0 1,0 -3.44,0ZM698.6,872.4a1.72,1.72 0 1,0 3.44,0a1.72,1.72 0 1,0 -3.44,0ZM729.9,840.8a1.72,1.72 0 1,0 3.44,0a1.72,1.72 0 1,0 -3.44,0ZM761.1,805.4a1.72,1.72 0 1,0 3.44,0a1.72,1.72 0 1,0 -3.44,0ZM792.4,765.9a1.72,1.72 0 1,0 3.44,0a1.72,1.72 0 1,0 -3.44,0ZM823.7,722.4a1.72,1.72 0 1,0 3.44,0a1.72,1.72 0 1,0 -3.44,0ZM854.9,675.3a1.72,1.72 0 1,0 3.44,0a1.72,1.72 0 1,0 -3.44,0ZM886.2,627.1a1.72,1.72 0 1,0 3.44,0a1.72,1.72 0 1,0 -3.44,0ZM917.5,579.5a1.72,1.72 0 1,0 3.44,0a1.72,1.72 0 1,0 -3.44,0ZM948.8,535.3a1.72,1.72 0 1,0 3.44,0a1.72,1.72 0 1,0 -3.44,0ZM980.0,496.4a1.72,1.72 0 1,0 3.44,0a1.72,1.72 0 1,0 -3.44,0ZM1011.3,465.7a1.72,1.72 0 1,0 3.44,0a1.72,1.72 0 1,0 -3.44,0ZM1042.6,446.7a1.72,1.72 0 1,0 3.44,0a1.72,1.72 0 1,0 -3.44,0ZM1073.8,442.0a1.72,1.72 0 1,0 3.44,0a1.72,1.72 0 1,0 -3.44,0ZM1105.1,452.1a1.72,1.72 0 1,0 3.44,0a1.72,1.72 0 1,0 -3.44,0ZM1136.4,476.2a1.72,1.72 0 1,0 3.44,0a1.72,1.72 0 1,0 -3.44,0ZM1167.7,513.0a1.72,1.72 0 1,0 3.44,0a1.72,1.72 0 1,0 -3.44,0ZM1198.9,560.4a1.72,1.72 0 1,0 3.44,0a1.72,1.72 0 1,0 -3.44,0ZM1230.2,616.2a1.72,1.72 0 1,0 3.44,0a1.72,1.72 0 1,0 -3.44,0ZM1261.5,678.6a1.72,1.72 0 1,0 3.44,0a1.72,1.72 0 1,0 -3.44,0ZM1292.7,746.6a1.72,1.72 0 1,0 3.44,0a1.72,1.72 0 1,0 -3.44,0ZM1324.0,817.5a1.72,1.72 0 1,0 3.44,0a1.72,1.72 0 1,0 -3.44,0ZM1355.3,888.8a1.72,1.72 0 1,0 3.44,0a1.72,1.72 0 1,0 -3.44,0ZM1386.6,958.0a1.72,1.72 0 1,0 3.44,0a1.72,1.72 0 1,0 -3.44,0ZM1417.8,1024.4a1.72,1.72 0 1,0 3.44,0a1.72,1.72 0 1,0 -3.44,0ZM1449.1,1085.7a1.72,1.72 0 1,0 3.44,0a1.72,1.72 0 1,0 -3.44,0ZM1480.4,1140.3a1.72,1.72 0 1,0 3.44,0a1.72,1.72 0 1,0 -3.44,0ZM1511.7,1186.6a1.72,1.72 0 1,0 3.44,0a1.72,1.72 0 1,0 -3.44,0ZM1542.9,1224.1a1.72,1.72 0 1,0 3.44,0a1.72,1.72 0 1,0 -3.44,0ZM1574.2,1253.0a1.72,1.72 0 1,0 3.44,0a1.72,1.72 0 1,0 -3.44,0ZM1605.5,1273.5a1.72,1.72 0 1,0 3.44,0a1.72,1.72 0 1,0 -3.44,0ZM1636.7,1286.5a1.72,1.72 0 1,0 3.44,0a1.72,1.72 0 1,0 -3.44,0ZM1668.0,1293.3a1.72,1.72 0 1,0 3.44,0a1.72,1.72 0 1,0 -3.44,0ZM1699.3,1295.9a1.72,1.72 0 1,0 3.44,0a1.72,1.72 0 1,0 -3.44,0ZM1730.6,1294.9a1.72,1.72 0 1,0 3.44,0a1.72,1.72 0 1,0 -3.44,0ZM1761.8,1291.3a1.72,1.72 0 1,0 3.44,0a1.72,1.72 0 1,0 -3.44,0ZM1793.1,1286.3a1.72,1.72 0 1,0 3.44,0a1.72,1.72 0 1,0 -3.44,0ZM1824.4,1279.3a1.72,1.72 0 1,0 3.44,0a1.72,1.72 0 1,0 -3.44,0ZM1855.6,1281.1a1.72,1.72 0 1,0 3.44,0a1.72,1.72 0 1,0 -3.44,0ZM1886.9,1268.6a1.72,1.72 0 1,0 3.44,0a1.72,1.72 0 1,0 -3.44,0Z" fill="#fff"/>
</g>
<g id="c_m3">
<path d="M489.5,895.5L508.9,909.1M521.3,916.3L539.6,925.1M553.1,930.0L570.4,934.5M584.6,936.3L601.4,936.5M615.7,935.0L632.9,931.0M646.4,926.4L664.7,917.8M677.1,910.7L696.5,897.2M707.8,888.2L728.4,869.2M738.5,859.0L760.2,834.9M769.4,823.9L791.9,794.8M800.4,783.2L823.4,750.1M831.4,738.1L854.9,701.1M862.4,688.8L886.4,647.7M893.7,635.3L917.7,594.1M925.1,581.7L948.9,542.1M956.5,529.9L980.0,493.5M988.1,481.6L1010.9,450.0M1020.2,439.0L1041.4,417.3M1052.7,408.5L1071.5,397.4M1084.9,393.3L1101.8,392.1M1115.6,394.6L1133.7,402.8M1145.5,410.6L1166.2,429.8M1175.9,440.4L1198.5,470.3M1206.6,482.2L1230.2,519.8M1237.4,532.2L1262.0,578.5M1268.4,591.4L1293.6,645.7M1299.5,658.8L1325.0,718.1M1330.7,731.3L1356.3,791.2M1362.0,804.4L1387.6,863.4M1393.4,876.5L1418.8,933.6M1424.8,946.7L1449.9,999.7M1456.2,1012.6L1481.0,1061.7M1487.8,1074.4L1511.9,1116.6M1519.5,1128.8L1542.8,1163.9M1551.4,1175.5L1573.5,1201.9M1583.4,1212.3L1604.0,1230.7M1615.5,1239.2L1634.4,1250.3M1647.4,1256.4L1665.1,1262.8M1679.0,1266.2L1696.0,1268.6M1710.4,1269.5L1727.2,1269.2M1741.6,1268.2L1758.6,1265.9M1772.7,1263.1L1790.0,1258.5M1803.9,1254.6L1821.4,1249.3M1835.4,1246.5L1852.3,1244.7M1866.4,1241.9L1883.9,1236.6" fill="none" stroke="#800080" stroke-width="11.0"/>
<path d="M478.3,886.2l10.4,10.4M488.7,886.2l-10.4,10.4M509.6,908.0l10.4,10.4M520.0,908.0l-10.4,10.4M540.9,923.0l10.4,10.4M551.3,923.0l-10.4,10.4M572.2,931.1l10.4,10.4M582.6,931.1l-10.4,10.4M603.4,931.4l10.4,10.4M613.8,931.4l-10.4,10.4M634.7,924.2l10.4,10.4M645.1,924.2l-10.4,10.4M666.0,909.6l10.4,10.4M676.4,909.6l-10.4,10.4M697.2,887.8l10.4,10.4M707.6,887.8l-10.4,10.4M728.5,859.2l10.4,10.4M738.9,859.2l-10.4,10.4M759.8,824.4l10.4,10.4M770.2,824.4l-10.4,10.4M791.1,783.9l10.4,10.4M801.5,783.9l-10.4,10.4M822.3,739.0l10.4,10.4M832.7,739.0l-10.4,10.4M853.6,689.8l10.4,10.4M864.0,689.8l-10.4,10.4M884.9,636.3l10.4,10.4M895.3,636.3l-10.4,10.4M916.2,582.7l10.4,10.4M926.6,582.7l-10.4,10.4M947.4,530.8l10.4,10.4M957.8,530.8l-10.4,10.4M978.7,482.2l10.4,10.4M989.1,482.2l-10.4,10.4M1010.0,439.0l10.4,10.4M1020.4,439.0l-10.4,10.4M1041.2,406.9l10.4,10.4M1051.6,406.9l-10.4,10.4M1072.5,388.6l10.4,10.4M1082.9,388.6l-10.4,10.4M1103.8,386.5l10.4,10.4M1114.2,386.5l-10.4,10.4M1135.1,400.5l10.4,10.4M1145.5,400.5l-10.4,10.4M1166.3,429.5l10.4,10.4M1176.7,429.5l-10.4,10.4M1197.6,470.9l10.4,10.4M1208.0,470.9l-10.4,10.4M1228.9,520.7l10.4,10.4M1239.3,520.7l-10.4,10.4M1260.1,579.6l10.4,10.4M1270.5,579.6l-10.4,10.4M1291.4,647.0l10.4,10.4M1301.8,647.0l-10.4,10.4M1322.7,719.5l10.4,10.4M1333.1,719.5l-10.4,10.4M1354.0,792.6l10.4,10.4M1364.4,792.6l-10.4,10.4M1385.2,864.8l10.4,10.4M1395.6,864.8l-10.4,10.4M1416.5,934.9l10.4,10.4M1426.9,934.9l-10.4,10.4M1447.8,1001.0l10.4,10.4M1458.2,1001.0l-10.4,10.4M1479.0,1062.9l10.4,10.4M1489.4,1062.9l-10.4,10.4M1510.3,1117.6l10.4,10.4M1520.7,1117.6l-10.4,10.4M1541.6,1164.7l10.4,10.4M1552.0,1164.7l-10.4,10.4M1572.9,1202.3l10.4,10.4M1583.3,1202.3l-10.4,10.4M1604.1,1230.3l10.4,10.4M1614.5,1230.3l-10.4,10.4M1635.4,1248.8l10.4,10.4M1645.8,1248.8l-10.4,10.4M1666.7,1260.0l10.4,10.4M1677.1,1260.0l-10.4,10.4M1698.0,1264.4l10.4,10.4M1708.4,1264.4l-10.4,10.4M1729.2,1263.9l10.4,10.4M1739.6,1263.9l-10.4,10.4M1760.5,1259.7l10.4,10.4M1770.9,1259.7l-10.4,10.4M1791.8,1251.5l10.4,10.4M1802.2,1251.5l-10.4,10.4M1823.0,1242.0l10.4,10.4M1833.4,1242.0l-10.4,10.4M1854.3,1238.8l10.4,10.4M1864.7,1238.8l-10.4,10.4M1885.6,1229.3l10.4,10.4M1896.0,1229.3l-10.4,10.4" fill="none" stroke="#800080" stroke-width="1"/>
</g>
<g id="c_m1">
<path d="M490.1,897.5L508.3,906.0M521.8,910.9L539.1,915.5M553.3,917.3L570.2,917.4M584.3,915.7L601.6,911.3M615.1,906.5L633.4,897.6M645.6,890.1L665.4,875.1M676.3,865.6L697.3,844.7M707.1,834.2L729.1,808.4M738.0,797.1L760.7,766.9M768.9,755.2L792.3,719.4M800.0,707.2L823.8,667.4M831.1,655.0L855.3,612.2M862.3,599.7L886.6,555.7M893.6,543.1L917.9,499.2M925.0,486.7L949.0,445.5M956.6,433.3L979.9,398.6M988.7,387.2L1010.4,362.4M1021.1,353.0L1040.5,339.9M1053.5,334.6L1070.6,331.4M1084.5,332.4L1102.2,338.3M1114.5,345.1L1134.7,361.9M1144.7,372.1L1167.0,400.1M1175.3,411.9L1199.0,450.7M1206.1,463.3L1230.7,510.3M1237.1,523.2L1262.3,576.7M1268.2,589.8L1293.7,647.8M1299.4,661.1L1325.1,722.9M1330.6,736.2L1356.4,799.7M1361.9,813.1L1387.7,875.1M1393.3,888.4L1418.9,948.0M1424.7,961.2L1450.0,1016.6M1456.2,1029.6L1481.1,1079.8M1487.8,1092.5L1512.0,1135.1M1519.6,1147.3L1542.7,1181.0M1551.5,1192.4L1573.3,1217.3M1583.5,1227.4L1603.9,1244.9M1615.5,1253.2L1634.4,1264.2M1647.4,1270.3L1665.1,1276.5M1679.0,1279.9L1696.0,1282.4M1710.4,1283.3L1727.2,1283.1M1741.6,1282.1L1758.6,1279.9M1772.8,1277.9L1789.9,1275.1M1804.0,1272.4L1821.2,1268.6M1835.4,1266.3L1852.3,1264.7M1866.5,1262.4L1883.8,1258.6" fill="none" stroke="#000000" stroke-width="11.0"/>
<path d="M478.8,894.5h9.4M510.1,909.5h9.4M541.4,917.5h9.4M572.7,917.5h9.4M603.9,909.5h9.4M635.2,894.5h9.4M666.5,870.5h9.4M697.7,839.5h9.4M729.0,802.5h9.4M760.3,761.5h9.4M791.6,713.5h9.4M822.8,661.5h9.4M854.1,605.5h9.4M885.4,549.5h9.4M916.7,492.5h9.4M947.9,439.5h9.4M979.2,392.5h9.4M1010.5,357.5h9.4M1041.7,335.5h9.4M1073.0,330.5h9.4M1104.3,340.5h9.4M1135.6,366.5h9.4M1166.8,405.5h9.4M1198.1,456.5h9.4M1229.4,516.5h9.4M1260.6,583.5h9.4M1291.9,654.5h9.4M1323.2,729.5h9.4M1354.5,806.5h9.4M1385.7,881.5h9.4M1417.0,954.5h9.4M1448.3,1023.5h9.4M1479.5,1086.5h9.4M1510.8,1141.5h9.4M1542.1,1186.5h9.4M1573.4,1222.5h9.4M1604.6,1249.5h9.4M1635.9,1267.5h9.4M1667.2,1278.5h9.4M1698.5,1283.5h9.4M1729.7,1283.5h9.4M1761.0,1279.5h9.4M1792.3,1274.5h9.4M1823.5,1267.5h9.4M1854.8,1264.5h9.4M1886.1,1257.5h9.4" fill="none" stroke="#000000" stroke-width="1"/>
</g>
</g>
<g id="axes" fill="#000" shape-rendering="crispEdges">
<rect x="259" y="228" width="11" height="1289"/>
<rect x="259" y="1495" width="1726" height="10"/>
<rect x="232" y="282" width="28" height="10"/>
<rect x="232" y="513" width="28" height="10"/>
<rect x="232" y="744" width="28" height="10"/>
<rect x="232" y="975" width="28" height="10"/>
<rect x="232" y="1206" width="28" height="10"/>
<rect x="232" y="1437" width="28" height="10"/>
<rect x="248" y="397" width="12" height="10"/>
<rect x="248" y="628" width="12" height="10"/>
<rect x="248" y="859" width="12" height="10"/>
<rect x="248" y="1090" width="12" height="10"/>
<rect x="248" y="1321" width="12" height="10"/>
<rect x="416" y="1499" width="10" height="33"/>
<rect x="729" y="1499" width="10" height="33"/>
<rect x="1041" y="1499" width="10" height="33"/>
<rect x="1354" y="1499" width="10" height="33"/>
<rect x="1667" y="1499" width="10" height="33"/>
<rect x="1980" y="1499" width="10" height="33"/>
<rect x="572" y="1499" width="10" height="18"/>
<rect x="885" y="1499" width="10" height="18"/>
<rect x="1198" y="1499" width="10" height="18"/>
<rect x="1511" y="1499" width="10" height="18"/>
<rect x="1823" y="1499" width="10" height="18"/>
</g>
<g id="ticklabels" font-family='"Liberation Sans", sans-serif' fill="#000">
<text transform="translate(210.4,300.3) scale(1,1.015)" font-size="51" stroke="#000" stroke-width="0.46" text-anchor="end">-6</text>
<text transform="translate(210.4,531.4) scale(1,1.015)" font-size="51" stroke="#000" stroke-width="0.46" text-anchor="end">-5</text>
<text transform="translate(210.4,762.5) scale(1,1.015)" font-size="51" stroke="#000" stroke-width="0.46" text-anchor="end">-4</text>
<text transform="translate(210.4,993.6) scale(1,1.015)" font-size="51" stroke="#000" stroke-width="0.46" text-anchor="end">-3</text>
<text transform="translate(210.4,1224.7) scale(1,1.015)" font-size="51" stroke="#000" stroke-width="0.46" text-anchor="end">-2</text>
<text transform="translate(210.4,1455.8) scale(1,1.015)" font-size="51" stroke="#000" stroke-width="0.46" text-anchor="end">-1</text>
<text transform="translate(420.5,1594.3) scale(1,1.015)" font-size="51" stroke="#000" stroke-width="0.46" text-anchor="middle">-0.4</text>
<text transform="translate(733.2,1594.3) scale(1,1.015)" font-size="51" stroke="#000" stroke-width="0.46" text-anchor="middle">-0.3</text>
<text transform="translate(1045.9,1594.3) scale(1,1.015)" font-size="51" stroke="#000" stroke-width="0.46" text-anchor="middle">-0.2</text>
<text transform="translate(1358.7,1594.3) scale(1,1.015)" font-size="51" stroke="#000" stroke-width="0.46" text-anchor="middle">-0.1</text>
<text transform="translate(1671.4,1594.3) scale(1,1.015)" font-size="51" stroke="#000" stroke-width="0.46" text-anchor="middle">0.0</text>
<text transform="translate(1984.1,1594.3) scale(1,1.015)" font-size="51" stroke="#000" stroke-width="0.46" text-anchor="middle">0.1</text>
</g>
<g id="titles" font-family='"Liberation Sans", sans-serif' fill="#000">
<text transform="translate(1175.0,1703.8) scale(1,1.045)" font-size="87" stroke="#000" stroke-width="0.78" text-anchor="middle" letter-spacing="1">E <tspan font-size="82">(</tspan>V<tspan font-size="82">)</tspan></text>
<text id="ytitle" transform="translate(106.1,983) rotate(-90) scale(1,1.065)" font-size="104" stroke="#000" stroke-width="0.9" x="-9.6 21.6 55.6 116.1 191.2" y="0">I<tspan font-size="98">(</tspan>µA<tspan font-size="98">)</tspan></text>
</g>
<g id="legend" font-family='"Liberation Sans", sans-serif' fill="#000" shape-rendering="crispEdges">
<path d="M1922,57.1h50M2026,57.1h50" stroke="#000000" stroke-width="11.0" fill="none" shape-rendering="crispEdges"/>
<path d="M1993.3,51.1 2005.3,51.1 2005.3,63.9 1993.3,63.9Z" fill="#000000"/>
<text transform="translate(2095.0,80.7) scale(1,1.04)" font-size="68" stroke="#000" stroke-width="0.61" text-anchor="start">HRP</text>
<path d="M1922,154.5h50M2026,154.5h50" stroke="#ff0000" stroke-width="11.0" fill="none" shape-rendering="crispEdges"/>
<path d="M1999.3,148.9 2001.6,149.4 2003.6,150.7 2004.9,152.7 2005.4,155.0 2004.9,157.3 2003.6,159.3 2001.6,160.6 1999.3,161.1 1997.0,160.6 1995.0,159.3 1993.7,157.3 1993.2,155.0 1993.7,152.7 1995.0,150.7 1997.0,149.4Z" fill="#ff0000"/>
<text transform="translate(2095.0,178.2) scale(1,1.04)" font-size="68" stroke="#000" stroke-width="0.61" text-anchor="start" xml:space="preserve">10<tspan font-size="40.8" dy="-35">-14</tspan><tspan dy="35"> M</tspan></text>
<path d="M1922,251.9h50M2026,251.9h50" stroke="#0000ff" stroke-width="11.0" fill="none" shape-rendering="crispEdges"/>
<path d="M1999.3,243.7 2007.0,256.9 1991.6,256.9Z" fill="#0000ff"/>
<text transform="translate(2095.0,275.7) scale(1,1.04)" font-size="68" stroke="#000" stroke-width="0.61" text-anchor="start" xml:space="preserve">10<tspan font-size="40.8" dy="-35">-13</tspan><tspan dy="35"> M</tspan></text>
<path d="M1922,349.3h50M2026,349.3h50" stroke="#008080" stroke-width="11.0" fill="none" shape-rendering="crispEdges"/>
<path d="M1999.3,358.9 2007.0,345.7 1991.6,345.7Z" fill="#008080"/>
<text transform="translate(2095.0,373.2) scale(1,1.04)" font-size="68" stroke="#000" stroke-width="0.61" text-anchor="start" xml:space="preserve">10<tspan font-size="40.8" dy="-35">-12</tspan><tspan dy="35"> M</tspan></text>
<path d="M1922,446.7h50M2026,446.7h50" stroke="#ff00ff" stroke-width="11.0" fill="none" shape-rendering="crispEdges"/>
<path d="M1999.3,438.7 2008.0,447.8 1999.3,456.9 1990.6,447.8Z" fill="#ff00ff"/>
<text transform="translate(2095.0,470.7) scale(1,1.04)" font-size="68" stroke="#000" stroke-width="0.61" text-anchor="start" xml:space="preserve">10<tspan font-size="40.8" dy="-35">-11</tspan><tspan dy="35"> M</tspan></text>
<path d="M1922,544.1h50M2026,544.1h50" stroke="#808000" stroke-width="11.0" fill="none" shape-rendering="crispEdges"/>
<path d="M1990.7,544.8 2003.7,536.6 2003.7,552.9Z" fill="#808000"/>
<text transform="translate(2095.0,568.2) scale(1,1.04)" font-size="68" stroke="#000" stroke-width="0.61" text-anchor="start" xml:space="preserve">10<tspan font-size="40.8" dy="-35">-10</tspan><tspan dy="35"> M</tspan></text>
<path d="M1922,641.5h50M2026,641.5h50" stroke="#000080" stroke-width="11.0" fill="none" shape-rendering="crispEdges"/>
<path d="M2008.0,642.6 1994.9,635.0 1994.9,650.2Z" fill="#000080"/>
<text transform="translate(2095.0,665.7) scale(1,1.04)" font-size="68" stroke="#000" stroke-width="0.61" text-anchor="start" xml:space="preserve">10<tspan font-size="40.8" dy="-35">-9</tspan><tspan dy="35"> M</tspan></text>
<path d="M1922,738.9h50M2026,738.9h50" stroke="#800000" stroke-width="11.0" fill="none" shape-rendering="crispEdges"/>
<path d="M1999.3,732.9 2005.4,736.4 2005.4,743.4 1999.3,746.9 1993.2,743.4 1993.2,736.4Z" fill="#800000"/>
<text transform="translate(2095.0,763.2) scale(1,1.04)" font-size="68" stroke="#000" stroke-width="0.61" text-anchor="start" xml:space="preserve">10<tspan font-size="40.8" dy="-35">-8</tspan><tspan dy="35"> M</tspan></text>
<path d="M1922,836.3h50M2026,836.3h50" stroke="#ff0080" stroke-width="11.0" fill="none" shape-rendering="crispEdges"/>
<path d="M1999.3,829.7 2001.2,835.0 2006.9,835.2 2002.4,838.7 2004.0,844.2 1999.3,841.0 1994.6,844.2 1996.2,838.7 1991.7,835.2 1997.4,835.0Z" fill="#ff0080"/>
<text transform="translate(2095.0,860.7) scale(1,1.04)" font-size="68" stroke="#000" stroke-width="0.61" text-anchor="start" xml:space="preserve">10<tspan font-size="40.8" dy="-35">-7</tspan><tspan dy="35"> M</tspan></text>
<path d="M1922,933.7h50M2026,933.7h50" stroke="#008000" stroke-width="11.0" fill="none" shape-rendering="crispEdges"/>
<path d="M1999.3,926.7 2006.9,932.2 2004.0,941.2 1994.6,941.2 1991.7,932.2Z" fill="#008000"/>
<text transform="translate(2095.0,958.2) scale(1,1.04)" font-size="68" stroke="#000" stroke-width="0.61" text-anchor="start" xml:space="preserve">10<tspan font-size="40.8" dy="-35">-6</tspan><tspan dy="35"> M</tspan></text>
<path d="M1922,1031.1h50M2026,1031.1h50" stroke="#0000a0" stroke-width="11.0" fill="none" shape-rendering="crispEdges"/>
<path d="M2001.8,1025.8 2005.3,1029.3 2005.3,1034.3 2001.8,1037.8 1996.8,1037.8 1993.3,1034.3 1993.3,1029.3 1996.8,1025.8Z" fill="#0000a0"/>
<path d="M1993.7,1029.4a3.10,3.10 0 1,0 6.20,0a3.10,3.10 0 1,0 -6.20,0Z" fill="#a0a0e6" fill-opacity="0.8"/>
<path d="M1994.8,1029.3a2.00,2.00 0 1,0 4.00,0a2.00,2.00 0 1,0 -4.00,0Z" fill="#fff"/>
<text transform="translate(2095.0,1055.7) scale(1,1.04)" font-size="68" stroke="#000" stroke-width="0.61" text-anchor="start" xml:space="preserve">10<tspan font-size="40.8" dy="-35">-5</tspan><tspan dy="35"> M</tspan></text>
<path d="M1922,1128.5h50M2026,1128.5h50" stroke="#ff8000" stroke-width="11.0" fill="none" shape-rendering="crispEdges"/>
<path d="M1993.3,1129.5h12M1999.3,1123.0v13" fill="none" stroke="#ff8000" stroke-width="1"/>
<text transform="translate(2095.0,1153.2) scale(1,1.04)" font-size="68" stroke="#000" stroke-width="0.61" text-anchor="start" xml:space="preserve">10<tspan font-size="40.8" dy="-35">-4</tspan><tspan dy="35"> M</tspan></text>
<path d="M1922,1225.9h50M2026,1225.9h50" stroke="#800080" stroke-width="11.0" fill="none" shape-rendering="crispEdges"/>
<path d="M1993.3,1220.4l12,12M2005.3,1220.4l-12,12" fill="none" stroke="#800080" stroke-width="1"/>
<text transform="translate(2095.0,1250.7) scale(1,1.04)" font-size="68" stroke="#000" stroke-width="0.61" text-anchor="start" xml:space="preserve">10<tspan font-size="40.8" dy="-35">-3</tspan><tspan dy="35"> M</tspan></text>
<path d="M1922,1323.3h50M2026,1323.3h50" stroke="#8000ff" stroke-width="11.0" fill="none" shape-rendering="crispEdges"/>
<path d="M1993.3,1324.3h12M1999.3,1317.8v12.5M1993.3,1317.8l11.5,11.5M2005.3,1317.8l-11.5,11.5" fill="none" stroke="#8000ff" stroke-width="1"/>
<text transform="translate(2095.0,1348.2) scale(1,1.04)" font-size="68" stroke="#000" stroke-width="0.61" text-anchor="start" xml:space="preserve">10<tspan font-size="40.8" dy="-35">-2</tspan><tspan dy="35"> M</tspan></text>
<path d="M1922,1420.7h50M2026,1420.7h50" stroke="#000000" stroke-width="11.0" fill="none" shape-rendering="crispEdges"/>
<path d="M1993.8,1422.5h11" fill="none" stroke="#000000" stroke-width="1"/>
<text transform="translate(2095.0,1445.7) scale(1,1.04)" font-size="68" stroke="#000" stroke-width="0.61" text-anchor="start" xml:space="preserve">&#160;10<tspan font-size="40.8" dy="-35">-1</tspan><tspan dy="35"> M</tspan></text>
</g>
</svg></body></html>
